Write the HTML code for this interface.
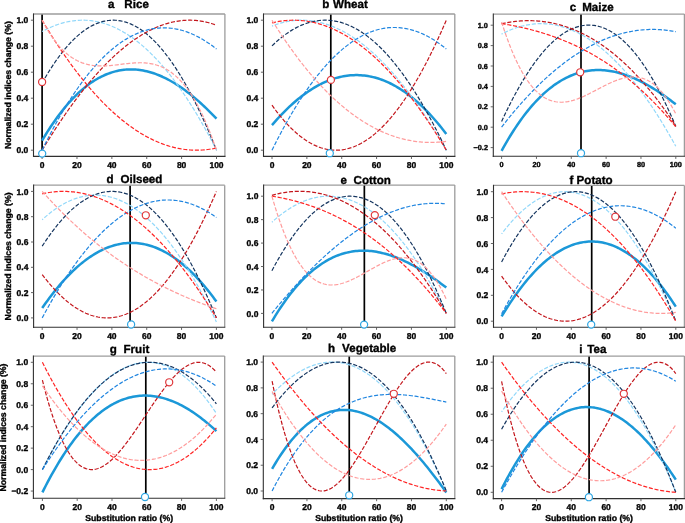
<!DOCTYPE html>
<html><head><meta charset="utf-8"><style>
html,body{margin:0;padding:0;background:#fff;}
body{width:685px;height:523px;position:relative;overflow:hidden;}
svg text{text-rendering:geometricPrecision;filter:grayscale(1);font-family:"Liberation Sans",sans-serif;font-weight:bold;fill:#000;stroke:#000;stroke-width:0.35px;}
</style></head><body>
<svg width="685" height="523" viewBox="0 0 685 523" style="position:absolute;left:0;top:0">
<clipPath id="clipa"><rect x="33.5" y="14.0" width="191.40" height="142.40"/></clipPath>
<g clip-path="url(#clipa)">
<line x1="42.10" y1="14.0" x2="42.10" y2="156.4" stroke="#000" stroke-width="1.7"/>
<polyline points="42.10,140.55 43.84,137.61 45.59,134.74 47.33,131.94 49.08,129.21 50.82,126.55 52.56,123.95 54.31,121.42 56.05,118.95 57.80,116.55 59.54,114.22 61.28,111.95 63.03,109.74 64.77,107.60 66.52,105.52 68.26,103.50 70.00,101.55 71.75,99.66 73.49,97.83 75.24,96.06 76.98,94.35 78.72,92.71 80.47,91.12 82.21,89.59 83.96,88.13 85.70,86.72 87.44,85.37 89.19,84.07 90.93,82.84 92.68,81.66 94.42,80.54 96.16,79.48 97.91,78.47 99.65,77.52 101.40,76.62 103.14,75.78 104.88,74.99 106.63,74.25 108.37,73.57 110.12,72.95 111.86,72.37 113.60,71.85 115.35,71.38 117.09,70.96 118.84,70.59 120.58,70.27 122.32,70.00 124.07,69.79 125.81,69.62 127.56,69.50 129.30,69.43 131.04,69.41 132.79,69.43 134.53,69.50 136.28,69.62 138.02,69.79 139.76,70.00 141.51,70.26 143.25,70.56 145.00,70.91 146.74,71.30 148.48,71.74 150.23,72.22 151.97,72.74 153.72,73.31 155.46,73.91 157.20,74.56 158.95,75.26 160.69,75.99 162.44,76.76 164.18,77.58 165.92,78.43 167.67,79.32 169.41,80.25 171.16,81.23 172.90,82.23 174.64,83.28 176.39,84.37 178.13,85.49 179.88,86.65 181.62,87.84 183.36,89.07 185.11,90.34 186.85,91.64 188.60,92.97 190.34,94.34 192.08,95.74 193.83,97.18 195.57,98.65 197.32,100.15 199.06,101.68 200.80,103.25 202.55,104.85 204.29,106.47 206.04,108.13 207.78,109.82 209.52,111.53 211.27,113.28 213.01,115.06 214.76,116.86 216.50,118.69" fill="none" stroke="#1b98d8" stroke-width="2.5" stroke-linecap="butt" stroke-linejoin="round"/>
<polyline points="42.10,31.57 43.84,30.61 45.59,29.70 47.33,28.83 49.08,28.00 50.82,27.21 52.56,26.47 54.31,25.76 56.05,25.10 57.80,24.48 59.54,23.90 61.28,23.36 63.03,22.86 64.77,22.41 66.52,22.00 68.26,21.63 70.00,21.30 71.75,21.02 73.49,20.78 75.24,20.58 76.98,20.42 78.72,20.30 80.47,20.23 82.21,20.20 83.96,20.21 85.70,20.27 87.44,20.37 89.19,20.51 90.93,20.69 92.68,20.92 94.42,21.19 96.16,21.50 97.91,21.85 99.65,22.25 101.40,22.69 103.14,23.18 104.88,23.71 106.63,24.28 108.37,24.90 110.12,25.55 111.86,26.26 113.60,27.00 115.35,27.79 117.09,28.62 118.84,29.50 120.58,30.42 122.32,31.39 124.07,32.40 125.81,33.45 127.56,34.55 129.30,35.69 131.04,36.87 132.79,38.10 134.53,39.37 136.28,40.69 138.02,42.05 139.76,43.46 141.51,44.91 143.25,46.41 145.00,47.95 146.74,49.53 148.48,51.16 150.23,52.84 151.97,54.56 153.72,56.32 155.46,58.13 157.20,59.98 158.95,61.88 160.69,63.83 162.44,65.82 164.18,67.85 165.92,69.93 167.67,72.06 169.41,74.23 171.16,76.44 172.90,78.70 174.64,81.01 176.39,83.36 178.13,85.76 179.88,88.21 181.62,90.70 183.36,93.23 185.11,95.81 186.85,98.44 188.60,101.12 190.34,103.84 192.08,106.60 193.83,109.41 195.57,112.27 197.32,115.18 199.06,118.13 200.80,121.13 202.55,124.17 204.29,127.26 206.04,130.40 207.78,133.58 209.52,136.81 211.27,140.09 213.01,143.41 214.76,146.78 216.50,150.20" fill="none" stroke="#92d8fa" stroke-width="1.2" stroke-dasharray="4.1 1.7" stroke-dashoffset="2.9" stroke-linejoin="round"/>
<polyline points="42.10,83.04 43.84,79.98 45.59,76.99 47.33,74.08 49.08,71.26 50.82,68.50 52.56,65.83 54.31,63.23 56.05,60.71 57.80,58.26 59.54,55.89 61.28,53.60 63.03,51.38 64.77,49.24 66.52,47.18 68.26,45.19 70.00,43.28 71.75,41.45 73.49,39.69 75.24,38.01 76.98,36.41 78.72,34.88 80.47,33.42 82.21,32.05 83.96,30.75 85.70,29.52 87.44,28.37 89.19,27.30 90.93,26.30 92.68,25.38 94.42,24.53 96.16,23.76 97.91,23.07 99.65,22.45 101.40,21.90 103.14,21.43 104.88,21.04 106.63,20.72 108.37,20.48 110.12,20.31 111.86,20.22 113.60,20.20 115.35,20.26 117.09,20.39 118.84,20.60 120.58,20.88 122.32,21.24 124.07,21.67 125.81,22.17 127.56,22.75 129.30,23.41 131.04,24.14 132.79,24.95 134.53,25.82 136.28,26.78 138.02,27.81 139.76,28.91 141.51,30.09 143.25,31.34 145.00,32.66 146.74,34.06 148.48,35.53 150.23,37.08 151.97,38.70 153.72,40.40 155.46,42.17 157.20,44.01 158.95,45.92 160.69,47.91 162.44,49.98 164.18,52.12 165.92,54.33 167.67,56.61 169.41,58.97 171.16,61.40 172.90,63.90 174.64,66.48 176.39,69.13 178.13,71.86 179.88,74.65 181.62,77.52 183.36,80.47 185.11,83.48 186.85,86.57 188.60,89.74 190.34,92.97 192.08,96.28 193.83,99.66 195.57,103.11 197.32,106.64 199.06,110.24 200.80,113.91 202.55,117.65 204.29,121.47 206.04,125.35 207.78,129.31 209.52,133.35 211.27,137.45 213.01,141.63 214.76,145.88 216.50,150.20" fill="none" stroke="#15355f" stroke-width="1.2" stroke-dasharray="4.1 1.7" stroke-linejoin="round"/>
<polyline points="42.10,150.20 43.84,147.32 45.59,144.47 47.33,141.65 49.08,138.85 50.82,136.08 52.56,133.34 54.31,130.63 56.05,127.95 57.80,125.30 59.54,122.68 61.28,120.08 63.03,117.52 64.77,114.98 66.52,112.48 68.26,110.00 70.00,107.56 71.75,105.14 73.49,102.76 75.24,100.40 76.98,98.08 78.72,95.79 80.47,93.52 82.21,91.29 83.96,89.09 85.70,86.92 87.44,84.79 89.19,82.68 90.93,80.61 92.68,78.57 94.42,76.56 96.16,74.58 97.91,72.64 99.65,70.73 101.40,68.85 103.14,67.00 104.88,65.19 106.63,63.41 108.37,61.66 110.12,59.95 111.86,58.27 113.60,56.63 115.35,55.02 117.09,53.44 118.84,51.90 120.58,50.39 122.32,48.92 124.07,47.48 125.81,46.08 127.56,44.71 129.30,43.38 131.04,42.08 132.79,40.82 134.53,39.59 136.28,38.41 138.02,37.25 139.76,36.13 141.51,35.05 143.25,34.01 145.00,33.00 146.74,32.03 148.48,31.10 150.23,30.20 151.97,29.34 153.72,28.52 155.46,27.74 157.20,26.99 158.95,26.28 160.69,25.61 162.44,24.98 164.18,24.39 165.92,23.83 167.67,23.31 169.41,22.84 171.16,22.40 172.90,22.00 174.64,21.64 176.39,21.32 178.13,21.04 179.88,20.80 181.62,20.60 183.36,20.44 185.11,20.32 186.85,20.24 188.60,20.20 190.34,20.20 192.08,20.24 193.83,20.33 195.57,20.45 197.32,20.62 199.06,20.83 200.80,21.08 202.55,21.37 204.29,21.70 206.04,22.08 207.78,22.50 209.52,22.96 211.27,23.46 213.01,24.01 214.76,24.59 216.50,25.23" fill="none" stroke="#c3161c" stroke-width="1.2" stroke-dasharray="4.1 1.7" stroke-linejoin="round"/>
<polyline points="42.10,150.20 43.84,146.63 45.59,143.12 47.33,139.66 49.08,136.26 50.82,132.91 52.56,129.62 54.31,126.38 56.05,123.20 57.80,120.07 59.54,117.00 61.28,113.98 63.03,111.01 64.77,108.10 66.52,105.24 68.26,102.44 70.00,99.68 71.75,96.99 73.49,94.34 75.24,91.75 76.98,89.22 78.72,86.73 80.47,84.30 82.21,81.93 83.96,79.60 85.70,77.33 87.44,75.11 89.19,72.94 90.93,70.83 92.68,68.77 94.42,66.76 96.16,64.80 97.91,62.89 99.65,61.04 101.40,59.23 103.14,57.48 104.88,55.78 106.63,54.14 108.37,52.54 110.12,50.99 111.86,49.50 113.60,48.05 115.35,46.66 117.09,45.32 118.84,44.03 120.58,42.79 122.32,41.60 124.07,40.45 125.81,39.36 127.56,38.32 129.30,37.33 131.04,36.39 132.79,35.50 134.53,34.66 136.28,33.87 138.02,33.13 139.76,32.43 141.51,31.79 143.25,31.19 145.00,30.65 146.74,30.15 148.48,29.70 150.23,29.30 151.97,28.95 153.72,28.65 155.46,28.39 157.20,28.19 158.95,28.03 160.69,27.92 162.44,27.85 164.18,27.84 165.92,27.87 167.67,27.95 169.41,28.08 171.16,28.25 172.90,28.47 174.64,28.74 176.39,29.06 178.13,29.42 179.88,29.83 181.62,30.28 183.36,30.79 185.11,31.34 186.85,31.93 188.60,32.57 190.34,33.26 192.08,33.99 193.83,34.77 195.57,35.59 197.32,36.46 199.06,37.38 200.80,38.34 202.55,39.35 204.29,40.40 206.04,41.49 207.78,42.63 209.52,43.82 211.27,45.05 213.01,46.33 214.76,47.65 216.50,49.01" fill="none" stroke="#2186e0" stroke-width="1.2" stroke-dasharray="4.1 1.7" stroke-linejoin="round"/>
<polyline points="42.10,20.20 43.84,23.12 45.59,26.01 47.33,28.86 49.08,31.68 50.82,34.47 52.56,37.22 54.31,39.95 56.05,42.63 57.80,45.29 59.54,47.91 61.28,50.50 63.03,53.05 64.77,55.58 66.52,58.06 68.26,60.52 70.00,62.94 71.75,65.33 73.49,67.69 75.24,70.01 76.98,72.30 78.72,74.56 80.47,76.78 82.21,78.97 83.96,81.13 85.70,83.25 87.44,85.35 89.19,87.40 90.93,89.43 92.68,91.42 94.42,93.38 96.16,95.30 97.91,97.19 99.65,99.05 101.40,100.88 103.14,102.67 104.88,104.43 106.63,106.16 108.37,107.85 110.12,109.51 111.86,111.14 113.60,112.73 115.35,114.29 117.09,115.82 118.84,117.31 120.58,118.77 122.32,120.20 124.07,121.59 125.81,122.95 127.56,124.28 129.30,125.58 131.04,126.84 132.79,128.07 134.53,129.26 136.28,130.42 138.02,131.55 139.76,132.65 141.51,133.71 143.25,134.74 145.00,135.74 146.74,136.70 148.48,137.63 150.23,138.53 151.97,139.39 153.72,140.22 155.46,141.02 157.20,141.78 158.95,142.51 160.69,143.21 162.44,143.88 164.18,144.51 165.92,145.10 167.67,145.67 169.41,146.20 171.16,146.70 172.90,147.17 174.64,147.60 176.39,148.00 178.13,148.36 179.88,148.70 181.62,149.00 183.36,149.26 185.11,149.50 186.85,149.70 188.60,149.86 190.34,150.00 192.08,150.10 193.83,150.16 195.57,150.20 197.32,150.20 199.06,150.17 200.80,150.10 202.55,150.00 204.29,149.87 206.04,149.71 207.78,149.51 209.52,149.28 211.27,149.01 213.01,148.72 214.76,148.39 216.50,148.02" fill="none" stroke="#ff2424" stroke-width="1.2" stroke-dasharray="4.1 1.7" stroke-linejoin="round"/>
<polyline points="42.10,20.20 43.84,23.50 45.59,26.64 47.33,29.62 49.08,32.46 50.82,35.16 52.56,37.71 54.31,40.12 56.05,42.40 57.80,44.55 59.54,46.57 61.28,48.47 63.03,50.24 64.77,51.90 66.52,53.44 68.26,54.88 70.00,56.21 71.75,57.43 73.49,58.56 75.24,59.59 76.98,60.53 78.72,61.38 80.47,62.15 82.21,62.83 83.96,63.43 85.70,63.96 87.44,64.42 89.19,64.82 90.93,65.14 92.68,65.41 94.42,65.62 96.16,65.78 97.91,65.89 99.65,65.95 101.40,65.97 103.14,65.95 104.88,65.89 106.63,65.81 108.37,65.69 110.12,65.55 111.86,65.39 113.60,65.21 115.35,65.01 117.09,64.80 118.84,64.59 120.58,64.37 122.32,64.16 124.07,63.94 125.81,63.74 127.56,63.54 129.30,63.36 131.04,63.19 132.79,63.05 134.53,62.93 136.28,62.84 138.02,62.78 139.76,62.75 141.51,62.77 143.25,62.82 145.00,62.92 146.74,63.08 148.48,63.28 150.23,63.54 151.97,63.86 153.72,64.24 155.46,64.70 157.20,65.22 158.95,65.81 160.69,66.49 162.44,67.24 164.18,68.08 165.92,69.01 167.67,70.03 169.41,71.14 171.16,72.35 172.90,73.67 174.64,75.09 176.39,76.62 178.13,78.27 179.88,80.03 181.62,81.91 183.36,83.91 185.11,86.05 186.85,88.31 188.60,90.71 190.34,93.24 192.08,95.92 193.83,98.74 195.57,101.71 197.32,104.83 199.06,108.10 200.80,111.54 202.55,115.14 204.29,118.90 206.04,122.84 207.78,126.94 209.52,131.23 211.27,135.69 213.01,140.34 214.76,145.17 216.50,150.20" fill="none" stroke="#ff9c9c" stroke-width="1.2" stroke-dasharray="4.1 1.7" stroke-linejoin="round"/>
</g>
<line x1="33.5" y1="14.0" x2="224.9" y2="14.0" stroke="#9c9c9c" stroke-width="1.3"/>
<line x1="224.9" y1="14.0" x2="224.9" y2="156.4" stroke="#9c9c9c" stroke-width="1.3"/>
<line x1="33.5" y1="13.4" x2="33.5" y2="157.0" stroke="#303030" stroke-width="1.1"/>
<line x1="33.0" y1="156.4" x2="225.5" y2="156.4" stroke="#303030" stroke-width="1.1"/>
<line x1="30.90" y1="150.20" x2="33.50" y2="150.20" stroke="#555" stroke-width="0.9"/>
<text x="28.30" y="153.33" font-size="8.5" text-anchor="end">0.0</text>
<line x1="30.90" y1="124.20" x2="33.50" y2="124.20" stroke="#555" stroke-width="0.9"/>
<text x="28.30" y="127.33" font-size="8.5" text-anchor="end">0.2</text>
<line x1="30.90" y1="98.20" x2="33.50" y2="98.20" stroke="#555" stroke-width="0.9"/>
<text x="28.30" y="101.33" font-size="8.5" text-anchor="end">0.4</text>
<line x1="30.90" y1="72.20" x2="33.50" y2="72.20" stroke="#555" stroke-width="0.9"/>
<text x="28.30" y="75.33" font-size="8.5" text-anchor="end">0.6</text>
<line x1="30.90" y1="46.20" x2="33.50" y2="46.20" stroke="#555" stroke-width="0.9"/>
<text x="28.30" y="49.33" font-size="8.5" text-anchor="end">0.8</text>
<line x1="30.90" y1="20.20" x2="33.50" y2="20.20" stroke="#555" stroke-width="0.9"/>
<text x="28.30" y="23.33" font-size="8.5" text-anchor="end">1.0</text>
<line x1="42.10" y1="156.40" x2="42.10" y2="159.00" stroke="#555" stroke-width="0.9"/>
<text x="42.10" y="167.70" font-size="8.5" text-anchor="middle">0</text>
<line x1="76.98" y1="156.40" x2="76.98" y2="159.00" stroke="#555" stroke-width="0.9"/>
<text x="76.98" y="167.70" font-size="8.5" text-anchor="middle">20</text>
<line x1="111.86" y1="156.40" x2="111.86" y2="159.00" stroke="#555" stroke-width="0.9"/>
<text x="111.86" y="167.70" font-size="8.5" text-anchor="middle">40</text>
<line x1="146.74" y1="156.40" x2="146.74" y2="159.00" stroke="#555" stroke-width="0.9"/>
<text x="146.74" y="167.70" font-size="8.5" text-anchor="middle">60</text>
<line x1="181.62" y1="156.40" x2="181.62" y2="159.00" stroke="#555" stroke-width="0.9"/>
<text x="181.62" y="167.70" font-size="8.5" text-anchor="middle">80</text>
<line x1="216.50" y1="156.40" x2="216.50" y2="159.00" stroke="#555" stroke-width="0.9"/>
<text x="216.50" y="167.70" font-size="8.5" text-anchor="middle">100</text>
<circle cx="42.10" cy="81.95" r="3.55" fill="#fff" stroke="#e0383c" stroke-width="1.2"/>
<circle cx="42.20" cy="153.60" r="3.55" fill="#fff" stroke="#2ea6e3" stroke-width="1.2"/>
<text x="107.96" y="8.4" font-size="11.6">a</text>
<text x="124.37" y="8.4" font-size="11.6">Rice</text>
<clipPath id="clipb"><rect x="263.5" y="14.0" width="191.30" height="142.40"/></clipPath>
<g clip-path="url(#clipb)">
<line x1="330.80" y1="14.0" x2="330.80" y2="156.4" stroke="#000" stroke-width="1.7"/>
<polyline points="272.00,125.11 273.74,123.09 275.49,121.10 277.23,119.15 278.97,117.25 280.71,115.38 282.46,113.56 284.20,111.78 285.94,110.04 287.69,108.34 289.43,106.69 291.17,105.07 292.92,103.50 294.66,101.97 296.40,100.48 298.14,99.04 299.89,97.63 301.63,96.27 303.37,94.95 305.12,93.67 306.86,92.43 308.60,91.24 310.35,90.09 312.09,88.98 313.83,87.91 315.57,86.89 317.32,85.90 319.06,84.96 320.80,84.06 322.55,83.21 324.29,82.40 326.03,81.63 327.78,80.90 329.52,80.22 331.26,79.57 333.00,78.97 334.75,78.42 336.49,77.90 338.23,77.43 339.98,77.01 341.72,76.62 343.46,76.28 345.21,75.98 346.95,75.73 348.69,75.52 350.44,75.35 352.18,75.22 353.92,75.14 355.66,75.10 357.41,75.11 359.15,75.15 360.89,75.24 362.64,75.38 364.38,75.56 366.12,75.78 367.87,76.05 369.61,76.36 371.35,76.71 373.09,77.11 374.84,77.55 376.58,78.03 378.32,78.56 380.07,79.14 381.81,79.75 383.55,80.42 385.30,81.12 387.04,81.87 388.78,82.66 390.52,83.50 392.27,84.38 394.01,85.31 395.75,86.28 397.50,87.30 399.24,88.36 400.98,89.46 402.73,90.61 404.47,91.81 406.21,93.04 407.95,94.33 409.70,95.65 411.44,97.03 413.18,98.44 414.93,99.91 416.67,101.41 418.41,102.97 420.16,104.56 421.90,106.21 423.64,107.89 425.38,109.63 427.13,111.40 428.87,113.23 430.61,115.09 432.36,117.01 434.10,118.97 435.84,120.97 437.59,123.02 439.33,125.12 441.07,127.26 442.81,129.44 444.56,131.68 446.30,133.95" fill="none" stroke="#1b98d8" stroke-width="2.5" stroke-linecap="butt" stroke-linejoin="round"/>
<polyline points="272.00,26.08 273.74,25.40 275.49,24.77 277.23,24.18 278.97,23.63 280.71,23.12 282.46,22.65 284.20,22.22 285.94,21.84 287.69,21.49 289.43,21.19 291.17,20.93 292.92,20.70 294.66,20.52 296.40,20.38 298.14,20.28 299.89,20.22 301.63,20.20 303.37,20.22 305.12,20.28 306.86,20.38 308.60,20.52 310.35,20.70 312.09,20.92 313.83,21.18 315.57,21.48 317.32,21.82 319.06,22.20 320.80,22.61 322.55,23.07 324.29,23.57 326.03,24.10 327.78,24.67 329.52,25.29 331.26,25.94 333.00,26.63 334.75,27.36 336.49,28.12 338.23,28.93 339.98,29.77 341.72,30.66 343.46,31.58 345.21,32.53 346.95,33.53 348.69,34.56 350.44,35.64 352.18,36.75 353.92,37.89 355.66,39.08 357.41,40.30 359.15,41.56 360.89,42.86 362.64,44.19 364.38,45.56 366.12,46.97 367.87,48.42 369.61,49.90 371.35,51.42 373.09,52.97 374.84,54.56 376.58,56.19 378.32,57.86 380.07,59.56 381.81,61.29 383.55,63.07 385.30,64.88 387.04,66.72 388.78,68.60 390.52,70.52 392.27,72.47 394.01,74.46 395.75,76.48 397.50,78.54 399.24,80.64 400.98,82.77 402.73,84.93 404.47,87.13 406.21,89.36 407.95,91.63 409.70,93.94 411.44,96.28 413.18,98.65 414.93,101.06 416.67,103.50 418.41,105.98 420.16,108.49 421.90,111.03 423.64,113.61 425.38,116.23 427.13,118.87 428.87,121.55 430.61,124.27 432.36,127.02 434.10,129.80 435.84,132.61 437.59,135.46 439.33,138.34 441.07,141.26 442.81,144.21 444.56,147.19 446.30,150.20" fill="none" stroke="#92d8fa" stroke-width="1.2" stroke-dasharray="4.1 1.7" stroke-dashoffset="2.9" stroke-linejoin="round"/>
<polyline points="272.00,45.86 273.74,44.20 275.49,42.59 277.23,41.03 278.97,39.54 280.71,38.10 282.46,36.71 284.20,35.38 285.94,34.11 287.69,32.89 289.43,31.73 291.17,30.63 292.92,29.58 294.66,28.59 296.40,27.65 298.14,26.77 299.89,25.94 301.63,25.17 303.37,24.46 305.12,23.80 306.86,23.20 308.60,22.65 310.35,22.16 312.09,21.72 313.83,21.34 315.57,21.01 317.32,20.74 319.06,20.52 320.80,20.36 322.55,20.25 324.29,20.20 326.03,20.20 327.78,20.26 329.52,20.37 331.26,20.54 333.00,20.76 334.75,21.04 336.49,21.37 338.23,21.76 339.98,22.20 341.72,22.69 343.46,23.24 345.21,23.85 346.95,24.51 348.69,25.22 350.44,25.99 352.18,26.81 353.92,27.68 355.66,28.61 357.41,29.59 359.15,30.63 360.89,31.72 362.64,32.87 364.38,34.07 366.12,35.32 367.87,36.62 369.61,37.98 371.35,39.40 373.09,40.87 374.84,42.39 376.58,43.96 378.32,45.59 380.07,47.27 381.81,49.00 383.55,50.79 385.30,52.63 387.04,54.52 388.78,56.47 390.52,58.47 392.27,60.52 394.01,62.63 395.75,64.79 397.50,67.00 399.24,69.27 400.98,71.58 402.73,73.95 404.47,76.38 406.21,78.85 407.95,81.38 409.70,83.96 411.44,86.59 413.18,89.28 414.93,92.02 416.67,94.81 418.41,97.65 420.16,100.55 421.90,103.49 423.64,106.49 425.38,109.54 427.13,112.65 428.87,115.80 430.61,119.01 432.36,122.27 434.10,125.58 435.84,128.94 437.59,132.35 439.33,135.82 441.07,139.34 442.81,142.91 444.56,146.53 446.30,150.20" fill="none" stroke="#15355f" stroke-width="1.2" stroke-dasharray="4.1 1.7" stroke-linejoin="round"/>
<polyline points="272.00,105.21 273.74,107.64 275.49,110.00 277.23,112.30 278.97,114.52 280.71,116.68 282.46,118.77 284.20,120.80 285.94,122.75 287.69,124.64 289.43,126.46 291.17,128.21 292.92,129.89 294.66,131.51 296.40,133.06 298.14,134.54 299.89,135.96 301.63,137.30 303.37,138.58 305.12,139.80 306.86,140.94 308.60,142.02 310.35,143.03 312.09,143.98 313.83,144.85 315.57,145.66 317.32,146.41 319.06,147.08 320.80,147.70 322.55,148.24 324.29,148.72 326.03,149.13 327.78,149.47 329.52,149.75 331.26,149.96 333.00,150.11 334.75,150.19 336.49,150.20 338.23,150.15 339.98,150.03 341.72,149.84 343.46,149.59 345.21,149.28 346.95,148.89 348.69,148.44 350.44,147.93 352.18,147.35 353.92,146.71 355.66,146.00 357.41,145.22 359.15,144.38 360.89,143.47 362.64,142.50 364.38,141.46 366.12,140.36 367.87,139.19 369.61,137.96 371.35,136.66 373.09,135.30 374.84,133.87 376.58,132.38 378.32,130.82 380.07,129.20 381.81,127.51 383.55,125.76 385.30,123.95 387.04,122.07 388.78,120.12 390.52,118.11 392.27,116.04 394.01,113.90 395.75,111.70 397.50,109.44 399.24,107.11 400.98,104.71 402.73,102.26 404.47,99.73 406.21,97.15 407.95,94.50 409.70,91.79 411.44,89.01 413.18,86.17 414.93,83.27 416.67,80.30 418.41,77.27 420.16,74.17 421.90,71.02 423.64,67.80 425.38,64.51 427.13,61.17 428.87,57.76 430.61,54.28 432.36,50.75 434.10,47.15 435.84,43.49 437.59,39.76 439.33,35.98 441.07,32.13 442.81,28.21 444.56,24.24 446.30,20.20" fill="none" stroke="#c3161c" stroke-width="1.2" stroke-dasharray="4.1 1.7" stroke-linejoin="round"/>
<polyline points="272.00,150.20 273.74,146.69 275.49,143.23 277.23,139.82 278.97,136.47 280.71,133.17 282.46,129.92 284.20,126.72 285.94,123.57 287.69,120.47 289.43,117.43 291.17,114.44 292.92,111.50 294.66,108.61 296.40,105.77 298.14,102.98 299.89,100.25 301.63,97.56 303.37,94.93 305.12,92.35 306.86,89.82 308.60,87.34 310.35,84.91 312.09,82.53 313.83,80.20 315.57,77.93 317.32,75.70 319.06,73.53 320.80,71.41 322.55,69.33 324.29,67.31 326.03,65.34 327.78,63.42 329.52,61.55 331.26,59.73 333.00,57.96 334.75,56.25 336.49,54.58 338.23,52.96 339.98,51.39 341.72,49.88 343.46,48.41 345.21,46.99 346.95,45.62 348.69,44.31 350.44,43.04 352.18,41.82 353.92,40.66 355.66,39.54 357.41,38.47 359.15,37.46 360.89,36.49 362.64,35.57 364.38,34.70 366.12,33.88 367.87,33.11 369.61,32.39 371.35,31.72 373.09,31.10 374.84,30.53 376.58,30.01 378.32,29.53 380.07,29.11 381.81,28.73 383.55,28.41 385.30,28.13 387.04,27.90 388.78,27.72 390.52,27.59 392.27,27.51 394.01,27.48 395.75,27.50 397.50,27.56 399.24,27.68 400.98,27.84 402.73,28.05 404.47,28.31 406.21,28.62 407.95,28.98 409.70,29.38 411.44,29.84 413.18,30.34 414.93,30.89 416.67,31.49 418.41,32.13 420.16,32.83 421.90,33.57 423.64,34.36 425.38,35.20 427.13,36.09 428.87,37.02 430.61,38.00 432.36,39.03 434.10,40.11 435.84,41.24 437.59,42.41 439.33,43.63 441.07,44.90 442.81,46.22 444.56,47.58 446.30,48.99" fill="none" stroke="#2186e0" stroke-width="1.2" stroke-dasharray="4.1 1.7" stroke-linejoin="round"/>
<polyline points="272.00,22.87 273.74,22.46 275.49,22.08 277.23,21.74 278.97,21.43 280.71,21.15 282.46,20.91 284.20,20.70 285.94,20.53 287.69,20.40 289.43,20.30 291.17,20.23 292.92,20.20 294.66,20.20 296.40,20.24 298.14,20.31 299.89,20.42 301.63,20.56 303.37,20.74 305.12,20.95 306.86,21.19 308.60,21.47 310.35,21.79 312.09,22.14 313.83,22.52 315.57,22.94 317.32,23.39 319.06,23.87 320.80,24.39 322.55,24.95 324.29,25.54 326.03,26.16 327.78,26.82 329.52,27.51 331.26,28.23 333.00,28.99 334.75,29.78 336.49,30.61 338.23,31.47 339.98,32.37 341.72,33.30 343.46,34.26 345.21,35.26 346.95,36.29 348.69,37.35 350.44,38.45 352.18,39.59 353.92,40.75 355.66,41.95 357.41,43.19 359.15,44.45 360.89,45.75 362.64,47.09 364.38,48.46 366.12,49.86 367.87,51.29 369.61,52.76 371.35,54.27 373.09,55.80 374.84,57.37 376.58,58.97 378.32,60.61 380.07,62.28 381.81,63.98 383.55,65.72 385.30,67.49 387.04,69.29 388.78,71.13 390.52,73.00 392.27,74.90 394.01,76.84 395.75,78.81 397.50,80.81 399.24,82.84 400.98,84.91 402.73,87.01 404.47,89.15 406.21,91.31 407.95,93.51 409.70,95.75 411.44,98.01 413.18,100.31 414.93,102.64 416.67,105.01 418.41,107.40 420.16,109.83 421.90,112.30 423.64,114.79 425.38,117.32 427.13,119.88 428.87,122.48 430.61,125.10 432.36,127.76 434.10,130.45 435.84,133.18 437.59,135.93 439.33,138.72 441.07,141.54 442.81,144.40 444.56,147.28 446.30,150.20" fill="none" stroke="#ff2424" stroke-width="1.2" stroke-dasharray="4.1 1.7" stroke-linejoin="round"/>
<polyline points="272.00,20.20 273.74,23.00 275.49,25.76 277.23,28.49 278.97,31.18 280.71,33.84 282.46,36.46 284.20,39.05 285.94,41.60 287.69,44.12 289.43,46.60 291.17,49.05 292.92,51.47 294.66,53.85 296.40,56.20 298.14,58.51 299.89,60.79 301.63,63.04 303.37,65.25 305.12,67.43 306.86,69.57 308.60,71.69 310.35,73.77 312.09,75.81 313.83,77.83 315.57,79.81 317.32,81.75 319.06,83.67 320.80,85.55 322.55,87.40 324.29,89.22 326.03,91.00 327.78,92.75 329.52,94.47 331.26,96.16 333.00,97.82 334.75,99.44 336.49,101.03 338.23,102.59 339.98,104.12 341.72,105.62 343.46,107.08 345.21,108.52 346.95,109.92 348.69,111.29 350.44,112.64 352.18,113.95 353.92,115.23 355.66,116.47 357.41,117.69 359.15,118.88 360.89,120.04 362.64,121.16 364.38,122.26 366.12,123.33 367.87,124.36 369.61,125.37 371.35,126.34 373.09,127.29 374.84,128.21 376.58,129.09 378.32,129.95 380.07,130.78 381.81,131.58 383.55,132.35 385.30,133.09 387.04,133.80 388.78,134.48 390.52,135.13 392.27,135.76 394.01,136.35 395.75,136.92 397.50,137.46 399.24,137.97 400.98,138.45 402.73,138.91 404.47,139.33 406.21,139.73 407.95,140.10 409.70,140.44 411.44,140.76 413.18,141.05 414.93,141.31 416.67,141.54 418.41,141.74 420.16,141.92 421.90,142.07 423.64,142.19 425.38,142.29 427.13,142.36 428.87,142.40 430.61,142.42 432.36,142.41 434.10,142.37 435.84,142.31 437.59,142.22 439.33,142.10 441.07,141.96 442.81,141.79 444.56,141.60 446.30,141.38" fill="none" stroke="#ff9c9c" stroke-width="1.2" stroke-dasharray="4.1 1.7" stroke-linejoin="round"/>
</g>
<line x1="263.5" y1="14.0" x2="454.8" y2="14.0" stroke="#9c9c9c" stroke-width="1.3"/>
<line x1="454.8" y1="14.0" x2="454.8" y2="156.4" stroke="#9c9c9c" stroke-width="1.3"/>
<line x1="263.5" y1="13.4" x2="263.5" y2="157.0" stroke="#303030" stroke-width="1.1"/>
<line x1="263.0" y1="156.4" x2="455.40000000000003" y2="156.4" stroke="#303030" stroke-width="1.1"/>
<line x1="260.90" y1="150.20" x2="263.50" y2="150.20" stroke="#555" stroke-width="0.9"/>
<text x="258.30" y="153.33" font-size="8.5" text-anchor="end">0.0</text>
<line x1="260.90" y1="124.20" x2="263.50" y2="124.20" stroke="#555" stroke-width="0.9"/>
<text x="258.30" y="127.33" font-size="8.5" text-anchor="end">0.2</text>
<line x1="260.90" y1="98.20" x2="263.50" y2="98.20" stroke="#555" stroke-width="0.9"/>
<text x="258.30" y="101.33" font-size="8.5" text-anchor="end">0.4</text>
<line x1="260.90" y1="72.20" x2="263.50" y2="72.20" stroke="#555" stroke-width="0.9"/>
<text x="258.30" y="75.33" font-size="8.5" text-anchor="end">0.6</text>
<line x1="260.90" y1="46.20" x2="263.50" y2="46.20" stroke="#555" stroke-width="0.9"/>
<text x="258.30" y="49.33" font-size="8.5" text-anchor="end">0.8</text>
<line x1="260.90" y1="20.20" x2="263.50" y2="20.20" stroke="#555" stroke-width="0.9"/>
<text x="258.30" y="23.33" font-size="8.5" text-anchor="end">1.0</text>
<line x1="272.00" y1="156.40" x2="272.00" y2="159.00" stroke="#555" stroke-width="0.9"/>
<text x="272.00" y="167.70" font-size="8.5" text-anchor="middle">0</text>
<line x1="306.86" y1="156.40" x2="306.86" y2="159.00" stroke="#555" stroke-width="0.9"/>
<text x="306.86" y="167.70" font-size="8.5" text-anchor="middle">20</text>
<line x1="341.72" y1="156.40" x2="341.72" y2="159.00" stroke="#555" stroke-width="0.9"/>
<text x="341.72" y="167.70" font-size="8.5" text-anchor="middle">40</text>
<line x1="376.58" y1="156.40" x2="376.58" y2="159.00" stroke="#555" stroke-width="0.9"/>
<text x="376.58" y="167.70" font-size="8.5" text-anchor="middle">60</text>
<line x1="411.44" y1="156.40" x2="411.44" y2="159.00" stroke="#555" stroke-width="0.9"/>
<text x="411.44" y="167.70" font-size="8.5" text-anchor="middle">80</text>
<line x1="446.30" y1="156.40" x2="446.30" y2="159.00" stroke="#555" stroke-width="0.9"/>
<text x="446.30" y="167.70" font-size="8.5" text-anchor="middle">100</text>
<circle cx="330.90" cy="79.90" r="3.55" fill="#fff" stroke="#e0383c" stroke-width="1.2"/>
<circle cx="329.80" cy="153.20" r="3.55" fill="#fff" stroke="#2ea6e3" stroke-width="1.2"/>
<text x="322.33" y="8.4" font-size="11.6">b</text>
<text x="332.99" y="8.4" font-size="11.6">Wheat</text>
<clipPath id="clipc"><rect x="493.3" y="14.1" width="191.10" height="142.20"/></clipPath>
<g clip-path="url(#clipc)">
<line x1="581.00" y1="14.1" x2="581.00" y2="156.3" stroke="#000" stroke-width="1.7"/>
<polyline points="501.60,150.79 503.34,147.64 505.08,144.56 506.83,141.56 508.57,138.62 510.31,135.76 512.05,132.97 513.79,130.24 515.54,127.58 517.28,124.99 519.02,122.47 520.76,120.01 522.50,117.63 524.25,115.30 525.99,113.04 527.73,110.85 529.47,108.72 531.21,106.66 532.96,104.65 534.70,102.71 536.44,100.84 538.18,99.02 539.92,97.26 541.67,95.57 543.41,93.93 545.15,92.36 546.89,90.84 548.63,89.38 550.38,87.98 552.12,86.64 553.86,85.35 555.60,84.12 557.34,82.95 559.09,81.83 560.83,80.76 562.57,79.75 564.31,78.79 566.05,77.89 567.80,77.04 569.54,76.24 571.28,75.49 573.02,74.79 574.76,74.14 576.51,73.54 578.25,72.99 579.99,72.49 581.73,72.04 583.47,71.64 585.22,71.28 586.96,70.97 588.70,70.70 590.44,70.49 592.18,70.31 593.93,70.18 595.67,70.09 597.41,70.05 599.15,70.05 600.89,70.09 602.64,70.18 604.38,70.30 606.12,70.47 607.86,70.68 609.60,70.92 611.35,71.21 613.09,71.53 614.83,71.89 616.57,72.29 618.31,72.72 620.06,73.20 621.80,73.70 623.54,74.25 625.28,74.83 627.02,75.44 628.77,76.08 630.51,76.76 632.25,77.48 633.99,78.22 635.73,78.99 637.48,79.80 639.22,80.64 640.96,81.51 642.70,82.40 644.44,83.33 646.19,84.28 647.93,85.26 649.67,86.27 651.41,87.31 653.15,88.37 654.90,89.46 656.64,90.57 658.38,91.71 660.12,92.87 661.86,94.05 663.61,95.26 665.35,96.49 667.09,97.75 668.83,99.02 670.57,100.32 672.32,101.63 674.06,102.97 675.80,104.32" fill="none" stroke="#1b98d8" stroke-width="2.5" stroke-linecap="butt" stroke-linejoin="round"/>
<polyline points="501.60,34.12 503.34,33.22 505.08,32.35 506.83,31.53 508.57,30.75 510.31,30.01 512.05,29.31 513.79,28.65 515.54,28.03 517.28,27.45 519.02,26.92 520.76,26.42 522.50,25.97 524.25,25.55 525.99,25.18 527.73,24.85 529.47,24.56 531.21,24.31 532.96,24.10 534.70,23.93 536.44,23.80 538.18,23.72 539.92,23.67 541.67,23.67 543.41,23.71 545.15,23.78 546.89,23.90 548.63,24.06 550.38,24.26 552.12,24.50 553.86,24.79 555.60,25.11 557.34,25.47 559.09,25.88 560.83,26.33 562.57,26.81 564.31,27.34 566.05,27.91 567.80,28.52 569.54,29.17 571.28,29.86 573.02,30.60 574.76,31.37 576.51,32.18 578.25,33.04 579.99,33.94 581.73,34.87 583.47,35.85 585.22,36.87 586.96,37.93 588.70,39.03 590.44,40.17 592.18,41.36 593.93,42.58 595.67,43.85 597.41,45.15 599.15,46.50 600.89,47.89 602.64,49.31 604.38,50.78 606.12,52.29 607.86,53.85 609.60,55.44 611.35,57.07 613.09,58.75 614.83,60.46 616.57,62.22 618.31,64.01 620.06,65.85 621.80,67.73 623.54,69.65 625.28,71.61 627.02,73.61 628.77,75.66 630.51,77.74 632.25,79.86 633.99,82.03 635.73,84.23 637.48,86.48 639.22,88.77 640.96,91.10 642.70,93.47 644.44,95.88 646.19,98.33 647.93,100.83 649.67,103.36 651.41,105.93 653.15,108.55 654.90,111.21 656.64,113.90 658.38,116.64 660.12,119.42 661.86,122.24 663.61,125.10 665.35,128.01 667.09,130.95 668.83,133.93 670.57,136.96 672.32,140.02 674.06,143.13 675.80,146.28" fill="none" stroke="#92d8fa" stroke-width="1.2" stroke-dasharray="4.1 1.7" stroke-dashoffset="2.9" stroke-linejoin="round"/>
<polyline points="501.60,121.55 503.34,117.79 505.08,114.11 506.83,110.49 508.57,106.96 510.31,103.49 512.05,100.09 513.79,96.77 515.54,93.53 517.28,90.35 519.02,87.25 520.76,84.23 522.50,81.27 524.25,78.40 525.99,75.59 527.73,72.86 529.47,70.20 531.21,67.62 532.96,65.12 534.70,62.68 536.44,60.33 538.18,58.04 539.92,55.84 541.67,53.71 543.41,51.65 545.15,49.67 546.89,47.76 548.63,45.93 550.38,44.18 552.12,42.50 553.86,40.90 555.60,39.38 557.34,37.93 559.09,36.56 560.83,35.27 562.57,34.05 564.31,32.91 566.05,31.84 567.80,30.86 569.54,29.95 571.28,29.12 573.02,28.37 574.76,27.69 576.51,27.09 578.25,26.58 579.99,26.13 581.73,25.77 583.47,25.49 585.22,25.28 586.96,25.16 588.70,25.11 590.44,25.14 592.18,25.25 593.93,25.44 595.67,25.71 597.41,26.06 599.15,26.49 600.89,27.00 602.64,27.59 604.38,28.26 606.12,29.01 607.86,29.84 609.60,30.75 611.35,31.74 613.09,32.81 614.83,33.97 616.57,35.20 618.31,36.52 620.06,37.91 621.80,39.39 623.54,40.95 625.28,42.60 627.02,44.32 628.77,46.13 630.51,48.01 632.25,49.98 633.99,52.04 635.73,54.17 637.48,56.39 639.22,58.69 640.96,61.08 642.70,63.55 644.44,66.10 646.19,68.73 647.93,71.45 649.67,74.25 651.41,77.13 653.15,80.10 654.90,83.16 656.64,86.30 658.38,89.52 660.12,92.82 661.86,96.21 663.61,99.69 665.35,103.25 667.09,106.90 668.83,110.63 670.57,114.44 672.32,118.35 674.06,122.33 675.80,126.41" fill="none" stroke="#15355f" stroke-width="1.2" stroke-dasharray="4.1 1.7" stroke-linejoin="round"/>
<polyline points="501.60,23.73 503.34,23.36 505.08,23.01 506.83,22.68 508.57,22.38 510.31,22.10 512.05,21.85 513.79,21.62 515.54,21.42 517.28,21.23 519.02,21.08 520.76,20.95 522.50,20.84 524.25,20.76 525.99,20.71 527.73,20.68 529.47,20.68 531.21,20.70 532.96,20.75 534.70,20.82 536.44,20.92 538.18,21.05 539.92,21.20 541.67,21.38 543.41,21.58 545.15,21.82 546.89,22.08 548.63,22.37 550.38,22.68 552.12,23.02 553.86,23.39 555.60,23.79 557.34,24.21 559.09,24.67 560.83,25.15 562.57,25.66 564.31,26.20 566.05,26.76 567.80,27.36 569.54,27.98 571.28,28.63 573.02,29.32 574.76,30.03 576.51,30.77 578.25,31.54 579.99,32.34 581.73,33.17 583.47,34.03 585.22,34.91 586.96,35.83 588.70,36.78 590.44,37.76 592.18,38.77 593.93,39.82 595.67,40.89 597.41,41.99 599.15,43.13 600.89,44.29 602.64,45.49 604.38,46.72 606.12,47.98 607.86,49.27 609.60,50.59 611.35,51.95 613.09,53.34 614.83,54.76 616.57,56.21 618.31,57.70 620.06,59.22 621.80,60.77 623.54,62.35 625.28,63.97 627.02,65.62 628.77,67.31 630.51,69.03 632.25,70.78 633.99,72.56 635.73,74.38 637.48,76.24 639.22,78.13 640.96,80.05 642.70,82.01 644.44,84.00 646.19,86.03 647.93,88.09 649.67,90.19 651.41,92.32 653.15,94.49 654.90,96.69 656.64,98.93 658.38,101.20 660.12,103.51 661.86,105.86 663.61,108.24 665.35,110.66 667.09,113.12 668.83,115.61 670.57,118.14 672.32,120.70 674.06,123.31 675.80,125.95" fill="none" stroke="#c3161c" stroke-width="1.2" stroke-dasharray="4.1 1.7" stroke-linejoin="round"/>
<polyline points="501.60,127.07 503.34,124.84 505.08,122.62 506.83,120.44 508.57,118.28 510.31,116.14 512.05,114.03 513.79,111.95 515.54,109.90 517.28,107.87 519.02,105.86 520.76,103.88 522.50,101.93 524.25,100.00 525.99,98.10 527.73,96.23 529.47,94.38 531.21,92.56 532.96,90.76 534.70,88.99 536.44,87.24 538.18,85.52 539.92,83.83 541.67,82.16 543.41,80.52 545.15,78.91 546.89,77.32 548.63,75.75 550.38,74.22 552.12,72.70 553.86,71.22 555.60,69.76 557.34,68.32 559.09,66.92 560.83,65.54 562.57,64.18 564.31,62.85 566.05,61.55 567.80,60.27 569.54,59.02 571.28,57.79 573.02,56.59 574.76,55.42 576.51,54.27 578.25,53.14 579.99,52.05 581.73,50.98 583.47,49.93 585.22,48.91 586.96,47.92 588.70,46.96 590.44,46.02 592.18,45.10 593.93,44.21 595.67,43.35 597.41,42.51 599.15,41.70 600.89,40.92 602.64,40.16 604.38,39.42 606.12,38.72 607.86,38.04 609.60,37.38 611.35,36.75 613.09,36.15 614.83,35.57 616.57,35.02 618.31,34.49 620.06,33.99 621.80,33.52 623.54,33.07 625.28,32.65 627.02,32.26 628.77,31.89 630.51,31.54 632.25,31.22 633.99,30.93 635.73,30.67 637.48,30.43 639.22,30.21 640.96,30.02 642.70,29.86 644.44,29.73 646.19,29.62 647.93,29.53 649.67,29.47 651.41,29.44 653.15,29.43 654.90,29.45 656.64,29.50 658.38,29.57 660.12,29.67 661.86,29.79 663.61,29.94 665.35,30.11 667.09,30.32 668.83,30.54 670.57,30.80 672.32,31.07 674.06,31.38 675.80,31.71" fill="none" stroke="#2186e0" stroke-width="1.2" stroke-dasharray="4.1 1.7" stroke-linejoin="round"/>
<polyline points="501.60,23.57 503.34,23.85 505.08,24.15 506.83,24.45 508.57,24.77 510.31,25.09 512.05,25.42 513.79,25.77 515.54,26.12 517.28,26.48 519.02,26.85 520.76,27.23 522.50,27.62 524.25,28.03 525.99,28.44 527.73,28.87 529.47,29.30 531.21,29.75 532.96,30.21 534.70,30.68 536.44,31.16 538.18,31.66 539.92,32.17 541.67,32.69 543.41,33.22 545.15,33.77 546.89,34.33 548.63,34.90 550.38,35.49 552.12,36.09 553.86,36.71 555.60,37.34 557.34,37.98 559.09,38.64 560.83,39.32 562.57,40.01 564.31,40.71 566.05,41.43 567.80,42.17 569.54,42.92 571.28,43.69 573.02,44.47 574.76,45.27 576.51,46.09 578.25,46.92 579.99,47.77 581.73,48.64 583.47,49.53 585.22,50.43 586.96,51.35 588.70,52.29 590.44,53.25 592.18,54.23 593.93,55.23 595.67,56.24 597.41,57.27 599.15,58.33 600.89,59.40 602.64,60.49 604.38,61.60 606.12,62.73 607.86,63.89 609.60,65.06 611.35,66.25 613.09,67.47 614.83,68.70 616.57,69.96 618.31,71.24 620.06,72.54 621.80,73.86 623.54,75.21 625.28,76.57 627.02,77.96 628.77,79.37 630.51,80.81 632.25,82.27 633.99,83.75 635.73,85.25 637.48,86.78 639.22,88.33 640.96,89.91 642.70,91.51 644.44,93.13 646.19,94.78 647.93,96.46 649.67,98.16 651.41,99.88 653.15,101.64 654.90,103.41 656.64,105.21 658.38,107.04 660.12,108.90 661.86,110.78 663.61,112.69 665.35,114.62 667.09,116.59 668.83,118.57 670.57,120.59 672.32,122.64 674.06,124.71 675.80,126.81" fill="none" stroke="#ff2424" stroke-width="1.2" stroke-dasharray="4.1 1.7" stroke-linejoin="round"/>
<polyline points="501.60,22.04 503.34,27.45 505.08,32.63 506.83,37.59 508.57,42.32 510.31,46.84 512.05,51.14 513.79,55.23 515.54,59.12 517.28,62.80 519.02,66.29 520.76,69.59 522.50,72.70 524.25,75.63 525.99,78.37 527.73,80.95 529.47,83.35 531.21,85.58 532.96,87.65 534.70,89.57 536.44,91.33 538.18,92.94 539.92,94.40 541.67,95.73 543.41,96.92 545.15,97.97 546.89,98.90 548.63,99.71 550.38,100.39 552.12,100.96 553.86,101.42 555.60,101.77 557.34,102.02 559.09,102.18 560.83,102.24 562.57,102.21 564.31,102.09 566.05,101.89 567.80,101.62 569.54,101.28 571.28,100.86 573.02,100.39 574.76,99.85 576.51,99.26 578.25,98.62 579.99,97.93 581.73,97.20 583.47,96.43 585.22,95.63 586.96,94.80 588.70,93.94 590.44,93.06 592.18,92.17 593.93,91.26 595.67,90.35 597.41,89.43 599.15,88.52 600.89,87.60 602.64,86.70 604.38,85.81 606.12,84.94 607.86,84.09 609.60,83.27 611.35,82.48 613.09,81.72 614.83,81.00 616.57,80.33 618.31,79.70 620.06,79.13 621.80,78.61 623.54,78.15 625.28,77.76 627.02,77.43 628.77,77.19 630.51,77.01 632.25,76.92 633.99,76.92 635.73,77.01 637.48,77.19 639.22,77.47 640.96,77.86 642.70,78.35 644.44,78.95 646.19,79.67 647.93,80.52 649.67,81.48 651.41,82.58 653.15,83.81 654.90,85.18 656.64,86.69 658.38,88.34 660.12,90.15 661.86,92.11 663.61,94.23 665.35,96.52 667.09,98.97 668.83,101.59 670.57,104.39 672.32,107.38 674.06,110.54 675.80,113.90" fill="none" stroke="#ff9c9c" stroke-width="1.2" stroke-dasharray="4.1 1.7" stroke-linejoin="round"/>
</g>
<line x1="493.3" y1="14.1" x2="684.4" y2="14.1" stroke="#9c9c9c" stroke-width="1.3"/>
<line x1="684.4" y1="14.1" x2="684.4" y2="156.3" stroke="#9c9c9c" stroke-width="1.3"/>
<line x1="493.3" y1="13.5" x2="493.3" y2="156.9" stroke="#303030" stroke-width="1.1"/>
<line x1="492.8" y1="156.3" x2="685.0" y2="156.3" stroke="#303030" stroke-width="1.1"/>
<line x1="490.70" y1="147.60" x2="493.30" y2="147.60" stroke="#555" stroke-width="0.9"/>
<text x="487.95" y="150.29" font-size="7.3" text-anchor="end">−0.2</text>
<line x1="490.70" y1="127.20" x2="493.30" y2="127.20" stroke="#555" stroke-width="0.9"/>
<text x="487.95" y="129.89" font-size="7.3" text-anchor="end">0.0</text>
<line x1="490.70" y1="106.80" x2="493.30" y2="106.80" stroke="#555" stroke-width="0.9"/>
<text x="487.95" y="109.49" font-size="7.3" text-anchor="end">0.2</text>
<line x1="490.70" y1="86.40" x2="493.30" y2="86.40" stroke="#555" stroke-width="0.9"/>
<text x="487.95" y="89.09" font-size="7.3" text-anchor="end">0.4</text>
<line x1="490.70" y1="66.00" x2="493.30" y2="66.00" stroke="#555" stroke-width="0.9"/>
<text x="487.95" y="68.69" font-size="7.3" text-anchor="end">0.6</text>
<line x1="490.70" y1="45.60" x2="493.30" y2="45.60" stroke="#555" stroke-width="0.9"/>
<text x="487.95" y="48.29" font-size="7.3" text-anchor="end">0.8</text>
<line x1="490.70" y1="25.20" x2="493.30" y2="25.20" stroke="#555" stroke-width="0.9"/>
<text x="487.95" y="27.89" font-size="7.3" text-anchor="end">1.0</text>
<line x1="501.60" y1="156.30" x2="501.60" y2="158.90" stroke="#555" stroke-width="0.9"/>
<text x="501.60" y="166.90" font-size="7.3" text-anchor="middle">0</text>
<line x1="536.44" y1="156.30" x2="536.44" y2="158.90" stroke="#555" stroke-width="0.9"/>
<text x="536.44" y="166.90" font-size="7.3" text-anchor="middle">20</text>
<line x1="571.28" y1="156.30" x2="571.28" y2="158.90" stroke="#555" stroke-width="0.9"/>
<text x="571.28" y="166.90" font-size="7.3" text-anchor="middle">40</text>
<line x1="606.12" y1="156.30" x2="606.12" y2="158.90" stroke="#555" stroke-width="0.9"/>
<text x="606.12" y="166.90" font-size="7.3" text-anchor="middle">60</text>
<line x1="640.96" y1="156.30" x2="640.96" y2="158.90" stroke="#555" stroke-width="0.9"/>
<text x="640.96" y="166.90" font-size="7.3" text-anchor="middle">80</text>
<line x1="675.80" y1="156.30" x2="675.80" y2="158.90" stroke="#555" stroke-width="0.9"/>
<text x="675.80" y="166.90" font-size="7.3" text-anchor="middle">100</text>
<circle cx="580.20" cy="72.30" r="3.55" fill="#fff" stroke="#e0383c" stroke-width="1.2"/>
<circle cx="581.00" cy="153.20" r="3.55" fill="#fff" stroke="#2ea6e3" stroke-width="1.2"/>
<text x="569.65" y="10.55" font-size="11.6">c</text>
<text x="582.17" y="10.55" font-size="11.6">Maize</text>
<clipPath id="clipd"><rect x="33.6" y="185.2" width="191.10" height="142.10"/></clipPath>
<g clip-path="url(#clipd)">
<line x1="130.10" y1="185.2" x2="130.10" y2="327.3" stroke="#000" stroke-width="1.7"/>
<polyline points="42.20,308.07 43.94,305.55 45.68,303.09 47.43,300.67 49.17,298.30 50.91,295.99 52.65,293.72 54.39,291.50 56.14,289.33 57.88,287.21 59.62,285.14 61.36,283.12 63.10,281.15 64.85,279.23 66.59,277.36 68.33,275.54 70.07,273.76 71.81,272.04 73.56,270.37 75.30,268.74 77.04,267.17 78.78,265.64 80.52,264.17 82.27,262.74 84.01,261.36 85.75,260.04 87.49,258.76 89.23,257.53 90.98,256.35 92.72,255.22 94.46,254.14 96.20,253.11 97.94,252.13 99.69,251.20 101.43,250.32 103.17,249.48 104.91,248.70 106.65,247.97 108.40,247.28 110.14,246.65 111.88,246.07 113.62,245.53 115.36,245.04 117.11,244.61 118.85,244.22 120.59,243.88 122.33,243.60 124.07,243.36 125.82,243.17 127.56,243.03 129.30,242.94 131.04,242.90 132.78,242.91 134.53,242.97 136.27,243.07 138.01,243.23 139.75,243.44 141.49,243.70 143.24,244.00 144.98,244.36 146.72,244.76 148.46,245.22 150.20,245.72 151.95,246.28 153.69,246.88 155.43,247.53 157.17,248.23 158.91,248.99 160.66,249.79 162.40,250.64 164.14,251.54 165.88,252.49 167.62,253.49 169.37,254.53 171.11,255.63 172.85,256.78 174.59,257.98 176.33,259.22 178.08,260.52 179.82,261.87 181.56,263.26 183.30,264.70 185.04,266.20 186.79,267.74 188.53,269.34 190.27,270.98 192.01,272.67 193.75,274.41 195.50,276.20 197.24,278.04 198.98,279.93 200.72,281.87 202.46,283.86 204.21,285.90 205.95,287.99 207.69,290.13 209.43,292.31 211.17,294.55 212.92,296.84 214.66,299.17 216.40,301.56" fill="none" stroke="#1b98d8" stroke-width="2.5" stroke-linecap="butt" stroke-linejoin="round"/>
<polyline points="42.20,219.71 43.94,218.12 45.68,216.59 47.43,215.12 49.17,213.69 50.91,212.32 52.65,211.00 54.39,209.73 56.14,208.52 57.88,207.36 59.62,206.25 61.36,205.19 63.10,204.19 64.85,203.24 66.59,202.34 68.33,201.50 70.07,200.70 71.81,199.96 73.56,199.27 75.30,198.64 77.04,198.06 78.78,197.53 80.52,197.05 82.27,196.62 84.01,196.25 85.75,195.93 87.49,195.66 89.23,195.45 90.98,195.29 92.72,195.18 94.46,195.12 96.20,195.12 97.94,195.17 99.69,195.27 101.43,195.42 103.17,195.63 104.91,195.89 106.65,196.20 108.40,196.56 110.14,196.98 111.88,197.45 113.62,197.97 115.36,198.55 117.11,199.17 118.85,199.85 120.59,200.59 122.33,201.37 124.07,202.21 125.82,203.10 127.56,204.04 129.30,205.04 131.04,206.09 132.78,207.19 134.53,208.34 136.27,209.55 138.01,210.81 139.75,212.12 141.49,213.48 143.24,214.90 144.98,216.37 146.72,217.89 148.46,219.46 150.20,221.09 151.95,222.77 153.69,224.50 155.43,226.29 157.17,228.12 158.91,230.02 160.66,231.96 162.40,233.95 164.14,236.00 165.88,238.10 167.62,240.25 169.37,242.46 171.11,244.72 172.85,247.03 174.59,249.39 176.33,251.81 178.08,254.28 179.82,256.80 181.56,259.37 183.30,262.00 185.04,264.68 186.79,267.41 188.53,270.20 190.27,273.03 192.01,275.92 193.75,278.87 195.50,281.86 197.24,284.91 198.98,288.01 200.72,291.16 202.46,294.37 204.21,297.63 205.95,300.94 207.69,304.30 209.43,307.72 211.17,311.18 212.92,314.71 214.66,318.28 216.40,321.91" fill="none" stroke="#92d8fa" stroke-width="1.2" stroke-dasharray="4.1 1.7" stroke-dashoffset="2.9" stroke-linejoin="round"/>
<polyline points="42.20,246.20 43.94,243.52 45.68,240.90 47.43,238.34 49.17,235.86 50.91,233.44 52.65,231.08 54.39,228.80 56.14,226.58 57.88,224.43 59.62,222.34 61.36,220.33 63.10,218.38 64.85,216.50 66.59,214.68 68.33,212.94 70.07,211.26 71.81,209.64 73.56,208.10 75.30,206.62 77.04,205.22 78.78,203.88 80.52,202.60 82.27,201.40 84.01,200.26 85.75,199.20 87.49,198.20 89.23,197.26 90.98,196.40 92.72,195.61 94.46,194.88 96.20,194.22 97.94,193.63 99.69,193.11 101.43,192.66 103.17,192.28 104.91,191.97 106.65,191.72 108.40,191.54 110.14,191.44 111.88,191.40 113.62,191.43 115.36,191.53 117.11,191.70 118.85,191.94 120.59,192.25 122.33,192.63 124.07,193.07 125.82,193.59 127.56,194.18 129.30,194.84 131.04,195.56 132.78,196.36 134.53,197.22 136.27,198.16 138.01,199.17 139.75,200.24 141.49,201.39 143.24,202.60 144.98,203.89 146.72,205.25 148.46,206.67 150.20,208.17 151.95,209.74 153.69,211.38 155.43,213.09 157.17,214.87 158.91,216.72 160.66,218.64 162.40,220.64 164.14,222.70 165.88,224.83 167.62,227.04 169.37,229.32 171.11,231.66 172.85,234.08 174.59,236.57 176.33,239.14 178.08,241.77 179.82,244.47 181.56,247.25 183.30,250.10 185.04,253.02 186.79,256.01 188.53,259.07 190.27,262.21 192.01,265.42 193.75,268.69 195.50,272.05 197.24,275.47 198.98,278.96 200.72,282.53 202.46,286.17 204.21,289.88 205.95,293.67 207.69,297.53 209.43,301.45 211.17,305.46 212.92,309.53 214.66,313.68 216.40,317.90" fill="none" stroke="#15355f" stroke-width="1.2" stroke-dasharray="4.1 1.7" stroke-linejoin="round"/>
<polyline points="42.20,274.52 43.94,276.80 45.68,279.03 47.43,281.19 49.17,283.30 50.91,285.34 52.65,287.32 54.39,289.24 56.14,291.09 57.88,292.89 59.62,294.62 61.36,296.29 63.10,297.90 64.85,299.45 66.59,300.93 68.33,302.36 70.07,303.72 71.81,305.02 73.56,306.26 75.30,307.43 77.04,308.55 78.78,309.60 80.52,310.59 82.27,311.51 84.01,312.38 85.75,313.18 87.49,313.92 89.23,314.59 90.98,315.21 92.72,315.76 94.46,316.24 96.20,316.67 97.94,317.03 99.69,317.33 101.43,317.57 103.17,317.74 104.91,317.85 106.65,317.90 108.40,317.88 110.14,317.81 111.88,317.66 113.62,317.46 115.36,317.19 117.11,316.86 118.85,316.46 120.59,316.00 122.33,315.48 124.07,314.89 125.82,314.24 127.56,313.53 129.30,312.75 131.04,311.91 132.78,311.00 134.53,310.03 136.27,309.00 138.01,307.90 139.75,306.74 141.49,305.52 143.24,304.23 144.98,302.87 146.72,301.45 148.46,299.97 150.20,298.43 151.95,296.81 153.69,295.14 155.43,293.40 157.17,291.59 158.91,289.72 160.66,287.79 162.40,285.79 164.14,283.72 165.88,281.59 167.62,279.40 169.37,277.14 171.11,274.82 172.85,272.43 174.59,269.97 176.33,267.46 178.08,264.87 179.82,262.22 181.56,259.51 183.30,256.72 185.04,253.88 186.79,250.97 188.53,247.99 190.27,244.95 192.01,241.84 193.75,238.67 195.50,235.43 197.24,232.12 198.98,228.75 200.72,225.31 202.46,221.81 204.21,218.24 205.95,214.60 207.69,210.90 209.43,207.13 211.17,203.30 212.92,199.40 214.66,195.43 216.40,191.40" fill="none" stroke="#c3161c" stroke-width="1.2" stroke-dasharray="4.1 1.7" stroke-linejoin="round"/>
<polyline points="42.20,317.90 43.94,314.66 45.68,311.46 47.43,308.30 49.17,305.20 50.91,302.13 52.65,299.12 54.39,296.14 56.14,293.22 57.88,290.33 59.62,287.50 61.36,284.71 63.10,281.96 64.85,279.26 66.59,276.60 68.33,273.99 70.07,271.43 71.81,268.91 73.56,266.43 75.30,264.00 77.04,261.62 78.78,259.28 80.52,256.99 82.27,254.74 84.01,252.54 85.75,250.38 87.49,248.26 89.23,246.20 90.98,244.18 92.72,242.20 94.46,240.27 96.20,238.38 97.94,236.54 99.69,234.74 101.43,232.99 103.17,231.29 104.91,229.63 106.65,228.01 108.40,226.44 110.14,224.92 111.88,223.44 113.62,222.00 115.36,220.62 117.11,219.27 118.85,217.97 120.59,216.72 122.33,215.51 124.07,214.35 125.82,213.23 127.56,212.16 129.30,211.13 131.04,210.15 132.78,209.22 134.53,208.32 136.27,207.48 138.01,206.68 139.75,205.92 141.49,205.21 143.24,204.55 144.98,203.93 146.72,203.35 148.46,202.83 150.20,202.34 151.95,201.90 153.69,201.51 155.43,201.16 157.17,200.86 158.91,200.60 160.66,200.39 162.40,200.22 164.14,200.10 165.88,200.02 167.62,199.99 169.37,200.01 171.11,200.06 172.85,200.17 174.59,200.32 176.33,200.51 178.08,200.75 179.82,201.04 181.56,201.37 183.30,201.75 185.04,202.17 186.79,202.63 188.53,203.14 190.27,203.70 192.01,204.30 193.75,204.95 195.50,205.64 197.24,206.38 198.98,207.16 200.72,207.99 202.46,208.87 204.21,209.78 205.95,210.75 207.69,211.76 209.43,212.81 211.17,213.91 212.92,215.06 214.66,216.25 216.40,217.48" fill="none" stroke="#2186e0" stroke-width="1.2" stroke-dasharray="4.1 1.7" stroke-linejoin="round"/>
<polyline points="42.20,193.81 43.94,193.43 45.68,193.08 47.43,192.77 49.17,192.48 50.91,192.23 52.65,192.02 54.39,191.83 56.14,191.68 57.88,191.56 59.62,191.47 61.36,191.42 63.10,191.40 64.85,191.41 66.59,191.46 68.33,191.53 70.07,191.64 71.81,191.79 73.56,191.96 75.30,192.17 77.04,192.41 78.78,192.69 80.52,192.99 82.27,193.33 84.01,193.71 85.75,194.11 87.49,194.55 89.23,195.02 90.98,195.52 92.72,196.06 94.46,196.63 96.20,197.23 97.94,197.87 99.69,198.53 101.43,199.23 103.17,199.97 104.91,200.73 106.65,201.53 108.40,202.36 110.14,203.23 111.88,204.12 113.62,205.05 115.36,206.01 117.11,207.01 118.85,208.04 120.59,209.10 122.33,210.19 124.07,211.32 125.82,212.48 127.56,213.67 129.30,214.89 131.04,216.15 132.78,217.44 134.53,218.76 136.27,220.12 138.01,221.51 139.75,222.93 141.49,224.38 143.24,225.87 144.98,227.39 146.72,228.94 148.46,230.53 150.20,232.14 151.95,233.79 153.69,235.48 155.43,237.19 157.17,238.94 158.91,240.72 160.66,242.54 162.40,244.39 164.14,246.26 165.88,248.18 167.62,250.12 169.37,252.10 171.11,254.11 172.85,256.16 174.59,258.23 176.33,260.34 178.08,262.48 179.82,264.66 181.56,266.87 183.30,269.11 185.04,271.38 186.79,273.69 188.53,276.02 190.27,278.40 192.01,280.80 193.75,283.24 195.50,285.71 197.24,288.21 198.98,290.74 200.72,293.31 202.46,295.91 204.21,298.55 205.95,301.21 207.69,303.91 209.43,306.64 211.17,309.41 212.92,312.21 214.66,315.04 216.40,317.90" fill="none" stroke="#ff2424" stroke-width="1.2" stroke-dasharray="4.1 1.7" stroke-linejoin="round"/>
<polyline points="42.20,191.40 43.94,193.35 45.68,195.27 47.43,197.18 49.17,199.07 50.91,200.94 52.65,202.78 54.39,204.61 56.14,206.43 57.88,208.22 59.62,209.99 61.36,211.75 63.10,213.49 64.85,215.20 66.59,216.91 68.33,218.59 70.07,220.25 71.81,221.90 73.56,223.53 75.30,225.14 77.04,226.74 78.78,228.31 80.52,229.87 82.27,231.42 84.01,232.94 85.75,234.45 87.49,235.95 89.23,237.42 90.98,238.88 92.72,240.33 94.46,241.75 96.20,243.17 97.94,244.56 99.69,245.94 101.43,247.30 103.17,248.65 104.91,249.99 106.65,251.30 108.40,252.61 110.14,253.89 111.88,255.17 113.62,256.42 115.36,257.67 117.11,258.89 118.85,260.11 120.59,261.31 122.33,262.49 124.07,263.67 125.82,264.82 127.56,265.97 129.30,267.10 131.04,268.21 132.78,269.31 134.53,270.40 136.27,271.48 138.01,272.54 139.75,273.59 141.49,274.63 143.24,275.65 144.98,276.67 146.72,277.66 148.46,278.65 150.20,279.63 151.95,280.59 153.69,281.54 155.43,282.48 157.17,283.40 158.91,284.32 160.66,285.22 162.40,286.12 164.14,287.00 165.88,287.87 167.62,288.72 169.37,289.57 171.11,290.41 172.85,291.24 174.59,292.05 176.33,292.86 178.08,293.65 179.82,294.44 181.56,295.21 183.30,295.98 185.04,296.73 186.79,297.48 188.53,298.21 190.27,298.94 192.01,299.66 193.75,300.37 195.50,301.06 197.24,301.75 198.98,302.43 200.72,303.11 202.46,303.77 204.21,304.43 205.95,305.07 207.69,305.71 209.43,306.34 211.17,306.96 212.92,307.58 214.66,308.19 216.40,308.79" fill="none" stroke="#ff9c9c" stroke-width="1.2" stroke-dasharray="4.1 1.7" stroke-linejoin="round"/>
</g>
<line x1="33.6" y1="185.2" x2="224.7" y2="185.2" stroke="#9c9c9c" stroke-width="1.3"/>
<line x1="224.7" y1="185.2" x2="224.7" y2="327.3" stroke="#9c9c9c" stroke-width="1.3"/>
<line x1="33.6" y1="184.6" x2="33.6" y2="327.90000000000003" stroke="#303030" stroke-width="1.1"/>
<line x1="33.1" y1="327.3" x2="225.29999999999998" y2="327.3" stroke="#303030" stroke-width="1.1"/>
<line x1="31.00" y1="317.90" x2="33.60" y2="317.90" stroke="#555" stroke-width="0.9"/>
<text x="28.40" y="321.03" font-size="8.5" text-anchor="end">0.0</text>
<line x1="31.00" y1="292.60" x2="33.60" y2="292.60" stroke="#555" stroke-width="0.9"/>
<text x="28.40" y="295.73" font-size="8.5" text-anchor="end">0.2</text>
<line x1="31.00" y1="267.30" x2="33.60" y2="267.30" stroke="#555" stroke-width="0.9"/>
<text x="28.40" y="270.43" font-size="8.5" text-anchor="end">0.4</text>
<line x1="31.00" y1="242.00" x2="33.60" y2="242.00" stroke="#555" stroke-width="0.9"/>
<text x="28.40" y="245.13" font-size="8.5" text-anchor="end">0.6</text>
<line x1="31.00" y1="216.70" x2="33.60" y2="216.70" stroke="#555" stroke-width="0.9"/>
<text x="28.40" y="219.83" font-size="8.5" text-anchor="end">0.8</text>
<line x1="31.00" y1="191.40" x2="33.60" y2="191.40" stroke="#555" stroke-width="0.9"/>
<text x="28.40" y="194.53" font-size="8.5" text-anchor="end">1.0</text>
<line x1="42.20" y1="327.30" x2="42.20" y2="329.90" stroke="#555" stroke-width="0.9"/>
<text x="42.20" y="338.60" font-size="8.5" text-anchor="middle">0</text>
<line x1="77.04" y1="327.30" x2="77.04" y2="329.90" stroke="#555" stroke-width="0.9"/>
<text x="77.04" y="338.60" font-size="8.5" text-anchor="middle">20</text>
<line x1="111.88" y1="327.30" x2="111.88" y2="329.90" stroke="#555" stroke-width="0.9"/>
<text x="111.88" y="338.60" font-size="8.5" text-anchor="middle">40</text>
<line x1="146.72" y1="327.30" x2="146.72" y2="329.90" stroke="#555" stroke-width="0.9"/>
<text x="146.72" y="338.60" font-size="8.5" text-anchor="middle">60</text>
<line x1="181.56" y1="327.30" x2="181.56" y2="329.90" stroke="#555" stroke-width="0.9"/>
<text x="181.56" y="338.60" font-size="8.5" text-anchor="middle">80</text>
<line x1="216.40" y1="327.30" x2="216.40" y2="329.90" stroke="#555" stroke-width="0.9"/>
<text x="216.40" y="338.60" font-size="8.5" text-anchor="middle">100</text>
<circle cx="145.80" cy="215.30" r="3.55" fill="#fff" stroke="#e0383c" stroke-width="1.2"/>
<circle cx="131.10" cy="324.50" r="3.55" fill="#fff" stroke="#2ea6e3" stroke-width="1.2"/>
<text x="106.62" y="182.9" font-size="11.6">d</text>
<text x="120.52" y="182.9" font-size="11.6">Oilseed</text>
<clipPath id="clipe"><rect x="263.6" y="185.1" width="191.20" height="142.10"/></clipPath>
<g clip-path="url(#clipe)">
<line x1="364.35" y1="185.1" x2="364.35" y2="327.2" stroke="#000" stroke-width="1.7"/>
<polyline points="271.90,321.47 273.64,318.55 275.39,315.69 277.13,312.90 278.88,310.19 280.62,307.54 282.36,304.96 284.11,302.45 285.85,300.01 287.60,297.63 289.34,295.32 291.08,293.08 292.83,290.90 294.57,288.79 296.32,286.74 298.06,284.75 299.80,282.83 301.55,280.96 303.29,279.17 305.04,277.43 306.78,275.75 308.52,274.13 310.27,272.57 312.01,271.08 313.76,269.64 315.50,268.25 317.24,266.93 318.99,265.66 320.73,264.45 322.48,263.29 324.22,262.19 325.96,261.14 327.71,260.14 329.45,259.20 331.20,258.32 332.94,257.48 334.68,256.69 336.43,255.96 338.17,255.28 339.92,254.64 341.66,254.06 343.40,253.53 345.15,253.04 346.89,252.60 348.64,252.21 350.38,251.86 352.12,251.56 353.87,251.30 355.61,251.09 357.36,250.93 359.10,250.80 360.84,250.72 362.59,250.69 364.33,250.69 366.08,250.74 367.82,250.82 369.56,250.95 371.31,251.11 373.05,251.32 374.80,251.56 376.54,251.84 378.28,252.16 380.03,252.52 381.77,252.91 383.52,253.34 385.26,253.80 387.00,254.29 388.75,254.82 390.49,255.39 392.24,255.98 393.98,256.61 395.72,257.27 397.47,257.96 399.21,258.68 400.96,259.44 402.70,260.22 404.44,261.03 406.19,261.86 407.93,262.73 409.68,263.62 411.42,264.54 413.16,265.48 414.91,266.45 416.65,267.45 418.40,268.46 420.14,269.51 421.88,270.57 423.63,271.66 425.37,272.77 427.12,273.90 428.86,275.05 430.60,276.22 432.35,277.41 434.09,278.62 435.84,279.85 437.58,281.10 439.32,282.36 441.07,283.64 442.81,284.94 444.56,286.25 446.30,287.58" fill="none" stroke="#1b98d8" stroke-width="2.5" stroke-linecap="butt" stroke-linejoin="round"/>
<polyline points="271.90,222.20 273.64,220.63 275.39,219.12 277.13,217.65 278.88,216.22 280.62,214.85 282.36,213.53 284.11,212.25 285.85,211.02 287.60,209.84 289.34,208.71 291.08,207.63 292.83,206.59 294.57,205.61 296.32,204.67 298.06,203.78 299.80,202.94 301.55,202.15 303.29,201.41 305.04,200.72 306.78,200.07 308.52,199.48 310.27,198.93 312.01,198.44 313.76,197.99 315.50,197.59 317.24,197.24 318.99,196.95 320.73,196.70 322.48,196.50 324.22,196.35 325.96,196.25 327.71,196.20 329.45,196.20 331.20,196.25 332.94,196.35 334.68,196.50 336.43,196.70 338.17,196.95 339.92,197.26 341.66,197.61 343.40,198.01 345.15,198.46 346.89,198.97 348.64,199.52 350.38,200.12 352.12,200.78 353.87,201.49 355.61,202.24 357.36,203.05 359.10,203.91 360.84,204.82 362.59,205.78 364.33,206.80 366.08,207.86 367.82,208.98 369.56,210.14 371.31,211.36 373.05,212.63 374.80,213.95 376.54,215.33 378.28,216.75 380.03,218.23 381.77,219.76 383.52,221.34 385.26,222.97 387.00,224.66 388.75,226.39 390.49,228.18 392.24,230.02 393.98,231.92 395.72,233.86 397.47,235.86 399.21,237.91 400.96,240.02 402.70,242.17 404.44,244.38 406.19,246.65 407.93,248.96 409.68,251.33 411.42,253.75 413.16,256.22 414.91,258.75 416.65,261.33 418.40,263.97 420.14,266.65 421.88,269.39 423.63,272.19 425.37,275.03 427.12,277.93 428.86,280.89 430.60,283.90 432.35,286.96 434.09,290.08 435.84,293.25 437.58,296.47 439.32,299.75 441.07,303.08 442.81,306.47 444.56,309.91 446.30,313.40" fill="none" stroke="#92d8fa" stroke-width="1.2" stroke-dasharray="4.1 1.7" stroke-dashoffset="2.9" stroke-linejoin="round"/>
<polyline points="271.90,270.69 273.64,267.43 275.39,264.24 277.13,261.13 278.88,258.08 280.62,255.11 282.36,252.21 284.11,249.39 285.85,246.63 287.60,243.95 289.34,241.34 291.08,238.80 292.83,236.33 294.57,233.94 296.32,231.62 298.06,229.37 299.80,227.20 301.55,225.10 303.29,223.07 305.04,221.11 306.78,219.23 308.52,217.42 310.27,215.68 312.01,214.02 313.76,212.43 315.50,210.92 317.24,209.47 318.99,208.11 320.73,206.81 322.48,205.59 324.22,204.45 325.96,203.37 327.71,202.38 329.45,201.45 331.20,200.60 332.94,199.83 334.68,199.13 336.43,198.50 338.17,197.95 339.92,197.48 341.66,197.08 343.40,196.75 345.15,196.50 346.89,196.33 348.64,196.22 350.38,196.20 352.12,196.25 353.87,196.38 355.61,196.58 357.36,196.86 359.10,197.21 360.84,197.64 362.59,198.14 364.33,198.72 366.08,199.38 367.82,200.11 369.56,200.92 371.31,201.81 373.05,202.77 374.80,203.81 376.54,204.93 378.28,206.12 380.03,207.39 381.77,208.73 383.52,210.16 385.26,211.66 387.00,213.23 388.75,214.89 390.49,216.62 392.24,218.43 393.98,220.32 395.72,222.28 397.47,224.32 399.21,226.44 400.96,228.64 402.70,230.92 404.44,233.27 406.19,235.70 407.93,238.21 409.68,240.80 411.42,243.47 413.16,246.21 414.91,249.04 416.65,251.94 418.40,254.92 420.14,257.98 421.88,261.12 423.63,264.34 425.37,267.64 427.12,271.01 428.86,274.47 430.60,278.00 432.35,281.62 434.09,285.31 435.84,289.08 437.58,292.94 439.32,296.87 441.07,300.88 442.81,304.97 444.56,309.15 446.30,313.40" fill="none" stroke="#15355f" stroke-width="1.2" stroke-dasharray="4.1 1.7" stroke-linejoin="round"/>
<polyline points="271.90,195.32 273.64,194.83 275.39,194.38 277.13,193.96 278.88,193.56 280.62,193.20 282.36,192.87 284.11,192.57 285.85,192.31 287.60,192.07 289.34,191.86 291.08,191.69 292.83,191.55 294.57,191.44 296.32,191.36 298.06,191.32 299.80,191.30 301.55,191.32 303.29,191.37 305.04,191.46 306.78,191.57 308.52,191.72 310.27,191.90 312.01,192.12 313.76,192.36 315.50,192.64 317.24,192.95 318.99,193.30 320.73,193.67 322.48,194.09 324.22,194.53 325.96,195.01 327.71,195.52 329.45,196.06 331.20,196.64 332.94,197.25 334.68,197.90 336.43,198.58 338.17,199.29 339.92,200.04 341.66,200.82 343.40,201.64 345.15,202.49 346.89,203.37 348.64,204.29 350.38,205.24 352.12,206.23 353.87,207.26 355.61,208.31 357.36,209.41 359.10,210.53 360.84,211.70 362.59,212.89 364.33,214.13 366.08,215.39 367.82,216.70 369.56,218.04 371.31,219.41 373.05,220.82 374.80,222.27 376.54,223.75 378.28,225.27 380.03,226.82 381.77,228.41 383.52,230.04 385.26,231.70 387.00,233.40 388.75,235.14 390.49,236.91 392.24,238.72 393.98,240.56 395.72,242.44 397.47,244.36 399.21,246.32 400.96,248.31 402.70,250.34 404.44,252.41 406.19,254.51 407.93,256.65 409.68,258.83 411.42,261.05 413.16,263.30 414.91,265.59 416.65,267.92 418.40,270.29 420.14,272.70 421.88,275.14 423.63,277.62 425.37,280.14 427.12,282.70 428.86,285.30 430.60,287.93 432.35,290.61 434.09,293.32 435.84,296.07 437.58,298.86 439.32,301.69 441.07,304.56 442.81,307.47 444.56,310.41 446.30,313.40" fill="none" stroke="#c3161c" stroke-width="1.2" stroke-dasharray="4.1 1.7" stroke-linejoin="round"/>
<polyline points="271.90,313.40 273.64,311.24 275.39,309.10 277.13,306.97 278.88,304.87 280.62,302.78 282.36,300.71 284.11,298.65 285.85,296.62 287.60,294.60 289.34,292.60 291.08,290.62 292.83,288.66 294.57,286.72 296.32,284.79 298.06,282.89 299.80,281.00 301.55,279.13 303.29,277.28 305.04,275.46 306.78,273.65 308.52,271.86 310.27,270.09 312.01,268.34 313.76,266.61 315.50,264.90 317.24,263.22 318.99,261.55 320.73,259.90 322.48,258.28 324.22,256.67 325.96,255.09 327.71,253.52 329.45,251.98 331.20,250.46 332.94,248.96 334.68,247.48 336.43,246.03 338.17,244.60 339.92,243.18 341.66,241.79 343.40,240.43 345.15,239.08 346.89,237.76 348.64,236.46 350.38,235.19 352.12,233.93 353.87,232.70 355.61,231.50 357.36,230.31 359.10,229.15 360.84,228.01 362.59,226.90 364.33,225.81 366.08,224.75 367.82,223.71 369.56,222.69 371.31,221.70 373.05,220.73 374.80,219.79 376.54,218.87 378.28,217.97 380.03,217.11 381.77,216.26 383.52,215.44 385.26,214.65 387.00,213.88 388.75,213.14 390.49,212.43 392.24,211.74 393.98,211.07 395.72,210.44 397.47,209.82 399.21,209.24 400.96,208.68 402.70,208.15 404.44,207.65 406.19,207.17 407.93,206.72 409.68,206.29 411.42,205.90 413.16,205.53 414.91,205.19 416.65,204.87 418.40,204.59 420.14,204.33 421.88,204.10 423.63,203.90 425.37,203.73 427.12,203.58 428.86,203.47 430.60,203.38 432.35,203.32 434.09,203.29 435.84,203.29 437.58,203.32 439.32,203.38 441.07,203.47 442.81,203.58 444.56,203.73 446.30,203.91" fill="none" stroke="#2186e0" stroke-width="1.2" stroke-dasharray="4.1 1.7" stroke-linejoin="round"/>
<polyline points="271.90,196.20 273.64,196.48 275.39,196.77 277.13,197.08 278.88,197.40 280.62,197.73 282.36,198.08 284.11,198.44 285.85,198.82 287.60,199.21 289.34,199.62 291.08,200.04 292.83,200.47 294.57,200.92 296.32,201.39 298.06,201.87 299.80,202.36 301.55,202.87 303.29,203.40 305.04,203.94 306.78,204.50 308.52,205.08 310.27,205.67 312.01,206.27 313.76,206.90 315.50,207.54 317.24,208.20 318.99,208.87 320.73,209.56 322.48,210.27 324.22,210.99 325.96,211.74 327.71,212.50 329.45,213.28 331.20,214.07 332.94,214.89 334.68,215.72 336.43,216.57 338.17,217.44 339.92,218.33 341.66,219.24 343.40,220.16 345.15,221.11 346.89,222.07 348.64,223.06 350.38,224.06 352.12,225.08 353.87,226.13 355.61,227.19 357.36,228.27 359.10,229.37 360.84,230.50 362.59,231.64 364.33,232.80 366.08,233.99 367.82,235.19 369.56,236.42 371.31,237.67 373.05,238.94 374.80,240.23 376.54,241.54 378.28,242.88 380.03,244.23 381.77,245.61 383.52,247.01 385.26,248.43 387.00,249.88 388.75,251.35 390.49,252.84 392.24,254.35 393.98,255.89 395.72,257.45 397.47,259.03 399.21,260.64 400.96,262.27 402.70,263.92 404.44,265.60 406.19,267.30 407.93,269.03 409.68,270.78 411.42,272.55 413.16,274.35 414.91,276.17 416.65,278.02 418.40,279.90 420.14,281.80 421.88,283.72 423.63,285.67 425.37,287.65 427.12,289.65 428.86,291.67 430.60,293.73 432.35,295.81 434.09,297.91 435.84,300.04 437.58,302.20 439.32,304.39 441.07,306.60 442.81,308.84 444.56,311.11 446.30,313.40" fill="none" stroke="#ff2424" stroke-width="1.2" stroke-dasharray="4.1 1.7" stroke-linejoin="round"/>
<polyline points="271.90,196.20 273.64,202.18 275.39,207.91 277.13,213.38 278.88,218.61 280.62,223.60 282.36,228.36 284.11,232.88 285.85,237.18 287.60,241.25 289.34,245.11 291.08,248.76 292.83,252.20 294.57,255.43 296.32,258.47 298.06,261.32 299.80,263.97 301.55,266.45 303.29,268.74 305.04,270.86 306.78,272.81 308.52,274.60 310.27,276.22 312.01,277.70 313.76,279.02 315.50,280.19 317.24,281.22 318.99,282.12 320.73,282.89 322.48,283.53 324.22,284.04 325.96,284.44 327.71,284.73 329.45,284.91 331.20,284.98 332.94,284.96 334.68,284.84 336.43,284.64 338.17,284.35 339.92,283.98 341.66,283.54 343.40,283.02 345.15,282.44 346.89,281.81 348.64,281.11 350.38,280.36 352.12,279.57 353.87,278.74 355.61,277.87 357.36,276.96 359.10,276.03 360.84,275.08 362.59,274.11 364.33,273.12 366.08,272.13 367.82,271.14 369.56,270.14 371.31,269.15 373.05,268.17 374.80,267.21 376.54,266.27 378.28,265.35 380.03,264.46 381.77,263.60 383.52,262.79 385.26,262.01 387.00,261.29 388.75,260.62 390.49,260.01 392.24,259.46 393.98,258.97 395.72,258.56 397.47,258.23 399.21,257.97 400.96,257.81 402.70,257.73 404.44,257.75 406.19,257.88 407.93,258.10 409.68,258.44 411.42,258.89 413.16,259.46 414.91,260.15 416.65,260.98 418.40,261.94 420.14,263.03 421.88,264.27 423.63,265.66 425.37,267.20 427.12,268.89 428.86,270.75 430.60,272.78 432.35,274.98 434.09,277.35 435.84,279.90 437.58,282.64 439.32,285.58 441.07,288.70 442.81,292.03 444.56,295.56 446.30,299.30" fill="none" stroke="#ff9c9c" stroke-width="1.2" stroke-dasharray="4.1 1.7" stroke-linejoin="round"/>
</g>
<line x1="263.6" y1="185.1" x2="454.8" y2="185.1" stroke="#9c9c9c" stroke-width="1.3"/>
<line x1="454.8" y1="185.1" x2="454.8" y2="327.2" stroke="#9c9c9c" stroke-width="1.3"/>
<line x1="263.6" y1="184.5" x2="263.6" y2="327.8" stroke="#303030" stroke-width="1.1"/>
<line x1="263.1" y1="327.2" x2="455.40000000000003" y2="327.2" stroke="#303030" stroke-width="1.1"/>
<line x1="261.00" y1="313.40" x2="263.60" y2="313.40" stroke="#555" stroke-width="0.9"/>
<text x="258.40" y="316.53" font-size="8.5" text-anchor="end">0.0</text>
<line x1="261.00" y1="289.96" x2="263.60" y2="289.96" stroke="#555" stroke-width="0.9"/>
<text x="258.40" y="293.09" font-size="8.5" text-anchor="end">0.2</text>
<line x1="261.00" y1="266.52" x2="263.60" y2="266.52" stroke="#555" stroke-width="0.9"/>
<text x="258.40" y="269.65" font-size="8.5" text-anchor="end">0.4</text>
<line x1="261.00" y1="243.08" x2="263.60" y2="243.08" stroke="#555" stroke-width="0.9"/>
<text x="258.40" y="246.21" font-size="8.5" text-anchor="end">0.6</text>
<line x1="261.00" y1="219.64" x2="263.60" y2="219.64" stroke="#555" stroke-width="0.9"/>
<text x="258.40" y="222.77" font-size="8.5" text-anchor="end">0.8</text>
<line x1="261.00" y1="196.20" x2="263.60" y2="196.20" stroke="#555" stroke-width="0.9"/>
<text x="258.40" y="199.33" font-size="8.5" text-anchor="end">1.0</text>
<line x1="271.90" y1="327.20" x2="271.90" y2="329.80" stroke="#555" stroke-width="0.9"/>
<text x="271.90" y="338.50" font-size="8.5" text-anchor="middle">0</text>
<line x1="306.78" y1="327.20" x2="306.78" y2="329.80" stroke="#555" stroke-width="0.9"/>
<text x="306.78" y="338.50" font-size="8.5" text-anchor="middle">20</text>
<line x1="341.66" y1="327.20" x2="341.66" y2="329.80" stroke="#555" stroke-width="0.9"/>
<text x="341.66" y="338.50" font-size="8.5" text-anchor="middle">40</text>
<line x1="376.54" y1="327.20" x2="376.54" y2="329.80" stroke="#555" stroke-width="0.9"/>
<text x="376.54" y="338.50" font-size="8.5" text-anchor="middle">60</text>
<line x1="411.42" y1="327.20" x2="411.42" y2="329.80" stroke="#555" stroke-width="0.9"/>
<text x="411.42" y="338.50" font-size="8.5" text-anchor="middle">80</text>
<line x1="446.30" y1="327.20" x2="446.30" y2="329.80" stroke="#555" stroke-width="0.9"/>
<text x="446.30" y="338.50" font-size="8.5" text-anchor="middle">100</text>
<circle cx="374.80" cy="215.10" r="3.55" fill="#fff" stroke="#e0383c" stroke-width="1.2"/>
<circle cx="364.10" cy="324.60" r="3.55" fill="#fff" stroke="#2ea6e3" stroke-width="1.2"/>
<text x="340.55" y="183.9" font-size="11.6">e</text>
<text x="353.52" y="183.9" font-size="11.6">Cotton</text>
<clipPath id="clipf"><rect x="493.5" y="185.4" width="190.90" height="141.80"/></clipPath>
<g clip-path="url(#clipf)">
<line x1="591.70" y1="185.4" x2="591.70" y2="327.2" stroke="#000" stroke-width="1.7"/>
<polyline points="501.60,316.45 503.34,313.58 505.08,310.77 506.83,308.01 508.57,305.31 510.31,302.66 512.05,300.08 513.79,297.54 515.54,295.07 517.28,292.65 519.02,290.28 520.76,287.97 522.50,285.72 524.25,283.52 525.99,281.38 527.73,279.30 529.47,277.27 531.21,275.30 532.96,273.38 534.70,271.52 536.44,269.71 538.18,267.96 539.92,266.27 541.67,264.63 543.41,263.05 545.15,261.53 546.89,260.06 548.63,258.64 550.38,257.29 552.12,255.99 553.86,254.74 555.60,253.55 557.34,252.42 559.09,251.34 560.83,250.32 562.57,249.35 564.31,248.44 566.05,247.59 567.80,246.79 569.54,246.05 571.28,245.36 573.02,244.73 574.76,244.16 576.51,243.64 578.25,243.18 579.99,242.78 581.73,242.43 583.47,242.13 585.22,241.89 586.96,241.71 588.70,241.59 590.44,241.51 592.18,241.50 593.93,241.54 595.67,241.64 597.41,241.79 599.15,242.00 600.89,242.27 602.64,242.59 604.38,242.97 606.12,243.40 607.86,243.89 609.60,244.44 611.35,245.04 613.09,245.70 614.83,246.41 616.57,247.18 618.31,248.00 620.06,248.88 621.80,249.82 623.54,250.81 625.28,251.86 627.02,252.97 628.77,254.13 630.51,255.35 632.25,256.62 633.99,257.95 635.73,259.33 637.48,260.77 639.22,262.27 640.96,263.82 642.70,265.43 644.44,267.10 646.19,268.82 647.93,270.59 649.67,272.43 651.41,274.32 653.15,276.26 654.90,278.26 656.64,280.32 658.38,282.43 660.12,284.60 661.86,286.82 663.61,289.10 665.35,291.44 667.09,293.83 668.83,296.28 670.57,298.78 672.32,301.34 674.06,303.96 675.80,306.63" fill="none" stroke="#1b98d8" stroke-width="2.5" stroke-linecap="butt" stroke-linejoin="round"/>
<polyline points="501.60,233.95 503.34,231.66 505.08,229.43 506.83,227.26 508.57,225.16 510.31,223.13 512.05,221.15 513.79,219.24 515.54,217.40 517.28,215.62 519.02,213.90 520.76,212.25 522.50,210.66 524.25,209.13 525.99,207.67 527.73,206.27 529.47,204.94 531.21,203.67 532.96,202.47 534.70,201.32 536.44,200.25 538.18,199.23 539.92,198.28 541.67,197.40 543.41,196.58 545.15,195.82 546.89,195.12 548.63,194.49 550.38,193.93 552.12,193.43 553.86,192.99 555.60,192.61 557.34,192.30 559.09,192.06 560.83,191.87 562.57,191.75 564.31,191.70 566.05,191.71 567.80,191.78 569.54,191.92 571.28,192.12 573.02,192.39 574.76,192.72 576.51,193.11 578.25,193.56 579.99,194.09 581.73,194.67 583.47,195.32 585.22,196.03 586.96,196.81 588.70,197.65 590.44,198.55 592.18,199.52 593.93,200.55 595.67,201.65 597.41,202.81 599.15,204.04 600.89,205.32 602.64,206.68 604.38,208.09 606.12,209.57 607.86,211.12 609.60,212.72 611.35,214.39 613.09,216.13 614.83,217.93 616.57,219.79 618.31,221.72 620.06,223.71 621.80,225.77 623.54,227.89 625.28,230.07 627.02,232.32 628.77,234.63 630.51,237.00 632.25,239.44 633.99,241.95 635.73,244.51 637.48,247.14 639.22,249.84 640.96,252.60 642.70,255.42 644.44,258.31 646.19,261.26 647.93,264.27 649.67,267.35 651.41,270.49 653.15,273.70 654.90,276.97 656.64,280.30 658.38,283.70 660.12,287.16 661.86,290.69 663.61,294.28 665.35,297.93 667.09,301.65 668.83,305.43 670.57,309.28 672.32,313.19 674.06,317.16 675.80,321.20" fill="none" stroke="#92d8fa" stroke-width="1.2" stroke-dasharray="4.1 1.7" stroke-dashoffset="2.9" stroke-linejoin="round"/>
<polyline points="501.60,262.02 503.34,258.75 505.08,255.55 506.83,252.43 508.57,249.39 510.31,246.42 512.05,243.54 513.79,240.73 515.54,238.00 517.28,235.35 519.02,232.78 520.76,230.28 522.50,227.87 524.25,225.53 525.99,223.27 527.73,221.08 529.47,218.98 531.21,216.95 532.96,215.01 534.70,213.14 536.44,211.35 538.18,209.63 539.92,208.00 541.67,206.44 543.41,204.96 545.15,203.56 546.89,202.24 548.63,200.99 550.38,199.83 552.12,198.74 553.86,197.73 555.60,196.79 557.34,195.94 559.09,195.17 560.83,194.47 562.57,193.85 564.31,193.31 566.05,192.84 567.80,192.46 569.54,192.15 571.28,191.92 573.02,191.77 574.76,191.70 576.51,191.71 578.25,191.79 579.99,191.95 581.73,192.19 583.47,192.51 585.22,192.91 586.96,193.38 588.70,193.93 590.44,194.56 592.18,195.27 593.93,196.06 595.67,196.93 597.41,197.87 599.15,198.89 600.89,199.99 602.64,201.17 604.38,202.42 606.12,203.76 607.86,205.17 609.60,206.66 611.35,208.23 613.09,209.88 614.83,211.60 616.57,213.40 618.31,215.28 620.06,217.24 621.80,219.28 623.54,221.40 625.28,223.59 627.02,225.86 628.77,228.21 630.51,230.64 632.25,233.15 633.99,235.73 635.73,238.39 637.48,241.13 639.22,243.95 640.96,246.85 642.70,249.83 644.44,252.88 646.19,256.01 647.93,259.22 649.67,262.51 651.41,265.87 653.15,269.32 654.90,272.84 656.64,276.44 658.38,280.12 660.12,283.87 661.86,287.71 663.61,291.62 665.35,295.61 667.09,299.68 668.83,303.83 670.57,308.05 672.32,312.36 674.06,316.74 675.80,321.20" fill="none" stroke="#15355f" stroke-width="1.2" stroke-dasharray="4.1 1.7" stroke-linejoin="round"/>
<polyline points="501.60,276.10 503.34,278.55 505.08,280.92 506.83,283.23 508.57,285.47 510.31,287.64 512.05,289.74 513.79,291.77 515.54,293.73 517.28,295.63 519.02,297.45 520.76,299.21 522.50,300.90 524.25,302.52 525.99,304.07 527.73,305.56 529.47,306.98 531.21,308.33 532.96,309.61 534.70,310.82 536.44,311.97 538.18,313.05 539.92,314.06 541.67,315.01 543.41,315.88 545.15,316.69 546.89,317.44 548.63,318.11 550.38,318.72 552.12,319.26 553.86,319.74 555.60,320.15 557.34,320.49 559.09,320.76 560.83,320.97 562.57,321.11 564.31,321.19 566.05,321.20 567.80,321.14 569.54,321.02 571.28,320.83 573.02,320.58 574.76,320.26 576.51,319.87 578.25,319.42 579.99,318.90 581.73,318.32 583.47,317.67 585.22,316.96 586.96,316.18 588.70,315.33 590.44,314.43 592.18,313.45 593.93,312.41 595.67,311.31 597.41,310.14 599.15,308.90 600.89,307.60 602.64,306.24 604.38,304.81 606.12,303.32 607.86,301.77 609.60,300.14 611.35,298.46 613.09,296.71 614.83,294.90 616.57,293.02 618.31,291.08 620.06,289.07 621.80,287.01 623.54,284.87 625.28,282.68 627.02,280.42 628.77,278.10 630.51,275.71 632.25,273.26 633.99,270.75 635.73,268.17 637.48,265.53 639.22,262.83 640.96,260.07 642.70,257.24 644.44,254.35 646.19,251.40 647.93,248.38 649.67,245.31 651.41,242.17 653.15,238.96 654.90,235.70 656.64,232.37 658.38,228.98 660.12,225.53 661.86,222.02 663.61,218.45 665.35,214.81 667.09,211.11 668.83,207.35 670.57,203.53 672.32,199.65 674.06,195.71 675.80,191.70" fill="none" stroke="#c3161c" stroke-width="1.2" stroke-dasharray="4.1 1.7" stroke-linejoin="round"/>
<polyline points="501.60,313.81 503.34,310.61 505.08,307.46 506.83,304.35 508.57,301.30 510.31,298.30 512.05,295.35 513.79,292.44 515.54,289.59 517.28,286.78 519.02,284.03 520.76,281.32 522.50,278.66 524.25,276.05 525.99,273.49 527.73,270.98 529.47,268.52 531.21,266.10 532.96,263.74 534.70,261.42 536.44,259.15 538.18,256.93 539.92,254.75 541.67,252.63 543.41,250.55 545.15,248.52 546.89,246.54 548.63,244.61 550.38,242.72 552.12,240.89 553.86,239.10 555.60,237.36 557.34,235.66 559.09,234.01 560.83,232.41 562.57,230.86 564.31,229.36 566.05,227.90 567.80,226.49 569.54,225.12 571.28,223.81 573.02,222.54 574.76,221.31 576.51,220.14 578.25,219.01 579.99,217.93 581.73,216.89 583.47,215.90 585.22,214.96 586.96,214.06 588.70,213.21 590.44,212.40 592.18,211.65 593.93,210.93 595.67,210.27 597.41,209.65 599.15,209.07 600.89,208.54 602.64,208.06 604.38,207.62 606.12,207.23 607.86,206.89 609.60,206.59 611.35,206.33 613.09,206.12 614.83,205.96 616.57,205.84 618.31,205.76 620.06,205.73 621.80,205.75 623.54,205.81 625.28,205.92 627.02,206.07 628.77,206.26 630.51,206.50 632.25,206.79 633.99,207.11 635.73,207.49 637.48,207.91 639.22,208.37 640.96,208.87 642.70,209.42 644.44,210.02 646.19,210.66 647.93,211.34 649.67,212.07 651.41,212.84 653.15,213.65 654.90,214.51 656.64,215.41 658.38,216.35 660.12,217.34 661.86,218.37 663.61,219.45 665.35,220.57 667.09,221.73 668.83,222.93 670.57,224.18 672.32,225.47 674.06,226.81 675.80,228.18" fill="none" stroke="#2186e0" stroke-width="1.2" stroke-dasharray="4.1 1.7" stroke-linejoin="round"/>
<polyline points="501.60,193.95 503.34,193.59 505.08,193.27 506.83,192.97 508.57,192.71 510.31,192.48 512.05,192.27 513.79,192.10 515.54,191.96 517.28,191.85 519.02,191.77 520.76,191.72 522.50,191.70 524.25,191.71 525.99,191.76 527.73,191.83 529.47,191.94 531.21,192.08 532.96,192.25 534.70,192.45 536.44,192.69 538.18,192.95 539.92,193.25 541.67,193.58 543.41,193.94 545.15,194.33 546.89,194.76 548.63,195.22 550.38,195.71 552.12,196.23 553.86,196.79 555.60,197.37 557.34,198.00 559.09,198.65 560.83,199.33 562.57,200.05 564.31,200.81 566.05,201.59 567.80,202.41 569.54,203.26 571.28,204.15 573.02,205.06 574.76,206.02 576.51,207.00 578.25,208.02 579.99,209.07 581.73,210.16 583.47,211.28 585.22,212.44 586.96,213.62 588.70,214.85 590.44,216.10 592.18,217.39 593.93,218.72 595.67,220.08 597.41,221.47 599.15,222.90 600.89,224.36 602.64,225.86 604.38,227.40 606.12,228.96 607.86,230.57 609.60,232.20 611.35,233.88 613.09,235.59 614.83,237.33 616.57,239.11 618.31,240.92 620.06,242.77 621.80,244.66 623.54,246.58 625.28,248.54 627.02,250.53 628.77,252.56 630.51,254.62 632.25,256.72 633.99,258.86 635.73,261.03 637.48,263.24 639.22,265.49 640.96,267.77 642.70,270.09 644.44,272.44 646.19,274.84 647.93,277.27 649.67,279.73 651.41,282.23 653.15,284.77 654.90,287.35 656.64,289.97 658.38,292.62 660.12,295.31 661.86,298.03 663.61,300.80 665.35,303.60 667.09,306.44 668.83,309.31 670.57,312.23 672.32,315.18 674.06,318.17 675.80,321.20" fill="none" stroke="#ff2424" stroke-width="1.2" stroke-dasharray="4.1 1.7" stroke-linejoin="round"/>
<polyline points="501.60,191.70 503.34,194.34 505.08,196.95 506.83,199.54 508.57,202.09 510.31,204.62 512.05,207.11 513.79,209.58 515.54,212.02 517.28,214.43 519.02,216.81 520.76,219.16 522.50,221.49 524.25,223.78 525.99,226.04 527.73,228.28 529.47,230.49 531.21,232.67 532.96,234.81 534.70,236.93 536.44,239.03 538.18,241.09 539.92,243.12 541.67,245.12 543.41,247.10 545.15,249.05 546.89,250.96 548.63,252.85 550.38,254.71 552.12,256.54 553.86,258.34 555.60,260.11 557.34,261.86 559.09,263.57 560.83,265.25 562.57,266.91 564.31,268.54 566.05,270.14 567.80,271.71 569.54,273.25 571.28,274.76 573.02,276.24 574.76,277.69 576.51,279.12 578.25,280.51 579.99,281.88 581.73,283.22 583.47,284.52 585.22,285.80 586.96,287.05 588.70,288.28 590.44,289.47 592.18,290.63 593.93,291.77 595.67,292.87 597.41,293.95 599.15,294.99 600.89,296.01 602.64,297.00 604.38,297.96 606.12,298.89 607.86,299.80 609.60,300.67 611.35,301.52 613.09,302.33 614.83,303.12 616.57,303.88 618.31,304.60 620.06,305.30 621.80,305.97 623.54,306.62 625.28,307.23 627.02,307.81 628.77,308.37 630.51,308.89 632.25,309.39 633.99,309.86 635.73,310.30 637.48,310.71 639.22,311.09 640.96,311.44 642.70,311.76 644.44,312.06 646.19,312.32 647.93,312.56 649.67,312.76 651.41,312.94 653.15,313.09 654.90,313.21 656.64,313.30 658.38,313.36 660.12,313.40 661.86,313.40 663.61,313.38 665.35,313.32 667.09,313.24 668.83,313.13 670.57,312.99 672.32,312.82 674.06,312.62 675.80,312.39" fill="none" stroke="#ff9c9c" stroke-width="1.2" stroke-dasharray="4.1 1.7" stroke-linejoin="round"/>
</g>
<line x1="493.5" y1="185.4" x2="684.4" y2="185.4" stroke="#9c9c9c" stroke-width="1.3"/>
<line x1="684.4" y1="185.4" x2="684.4" y2="327.2" stroke="#9c9c9c" stroke-width="1.3"/>
<line x1="493.5" y1="184.8" x2="493.5" y2="327.8" stroke="#303030" stroke-width="1.1"/>
<line x1="493.0" y1="327.2" x2="685.0" y2="327.2" stroke="#303030" stroke-width="1.1"/>
<line x1="490.90" y1="321.20" x2="493.50" y2="321.20" stroke="#555" stroke-width="0.9"/>
<text x="488.30" y="324.33" font-size="8.5" text-anchor="end">0.0</text>
<line x1="490.90" y1="295.30" x2="493.50" y2="295.30" stroke="#555" stroke-width="0.9"/>
<text x="488.30" y="298.43" font-size="8.5" text-anchor="end">0.2</text>
<line x1="490.90" y1="269.40" x2="493.50" y2="269.40" stroke="#555" stroke-width="0.9"/>
<text x="488.30" y="272.53" font-size="8.5" text-anchor="end">0.4</text>
<line x1="490.90" y1="243.50" x2="493.50" y2="243.50" stroke="#555" stroke-width="0.9"/>
<text x="488.30" y="246.63" font-size="8.5" text-anchor="end">0.6</text>
<line x1="490.90" y1="217.60" x2="493.50" y2="217.60" stroke="#555" stroke-width="0.9"/>
<text x="488.30" y="220.73" font-size="8.5" text-anchor="end">0.8</text>
<line x1="490.90" y1="191.70" x2="493.50" y2="191.70" stroke="#555" stroke-width="0.9"/>
<text x="488.30" y="194.83" font-size="8.5" text-anchor="end">1.0</text>
<line x1="501.60" y1="327.20" x2="501.60" y2="329.80" stroke="#555" stroke-width="0.9"/>
<text x="501.60" y="338.50" font-size="8.5" text-anchor="middle">0</text>
<line x1="536.44" y1="327.20" x2="536.44" y2="329.80" stroke="#555" stroke-width="0.9"/>
<text x="536.44" y="338.50" font-size="8.5" text-anchor="middle">20</text>
<line x1="571.28" y1="327.20" x2="571.28" y2="329.80" stroke="#555" stroke-width="0.9"/>
<text x="571.28" y="338.50" font-size="8.5" text-anchor="middle">40</text>
<line x1="606.12" y1="327.20" x2="606.12" y2="329.80" stroke="#555" stroke-width="0.9"/>
<text x="606.12" y="338.50" font-size="8.5" text-anchor="middle">60</text>
<line x1="640.96" y1="327.20" x2="640.96" y2="329.80" stroke="#555" stroke-width="0.9"/>
<text x="640.96" y="338.50" font-size="8.5" text-anchor="middle">80</text>
<line x1="675.80" y1="327.20" x2="675.80" y2="329.80" stroke="#555" stroke-width="0.9"/>
<text x="675.80" y="338.50" font-size="8.5" text-anchor="middle">100</text>
<circle cx="615.30" cy="216.70" r="3.55" fill="#fff" stroke="#e0383c" stroke-width="1.2"/>
<circle cx="591.20" cy="324.60" r="3.55" fill="#fff" stroke="#2ea6e3" stroke-width="1.2"/>
<text x="569.50" y="183.8" font-size="11.6">f</text>
<text x="576.62" y="183.8" font-size="11.6">Potato</text>
<clipPath id="clipg"><rect x="33.4" y="356.1" width="191.30" height="142.20"/></clipPath>
<g clip-path="url(#clipg)">
<line x1="145.80" y1="356.1" x2="145.80" y2="498.3" stroke="#000" stroke-width="1.7"/>
<polyline points="42.40,492.41 44.14,488.93 45.88,485.52 47.62,482.19 49.36,478.92 51.10,475.72 52.84,472.60 54.58,469.54 56.32,466.55 58.06,463.62 59.80,460.77 61.54,457.98 63.28,455.26 65.02,452.61 66.76,450.02 68.50,447.50 70.24,445.05 71.98,442.66 73.72,440.33 75.46,438.07 77.20,435.87 78.94,433.74 80.68,431.66 82.42,429.65 84.16,427.71 85.90,425.82 87.64,424.00 89.38,422.23 91.12,420.53 92.86,418.89 94.60,417.31 96.34,415.78 98.08,414.32 99.82,412.91 101.56,411.57 103.30,410.28 105.04,409.04 106.78,407.87 108.52,406.75 110.26,405.68 112.00,404.68 113.74,403.73 115.48,402.83 117.22,401.99 118.96,401.20 120.70,400.46 122.44,399.78 124.18,399.15 125.92,398.58 127.66,398.05 129.40,397.58 131.14,397.16 132.88,396.79 134.62,396.47 136.36,396.20 138.10,395.98 139.84,395.81 141.58,395.69 143.32,395.62 145.06,395.59 146.80,395.62 148.54,395.69 150.28,395.81 152.02,395.97 153.76,396.18 155.50,396.43 157.24,396.74 158.98,397.08 160.72,397.47 162.46,397.91 164.20,398.38 165.94,398.91 167.68,399.47 169.42,400.08 171.16,400.73 172.90,401.42 174.64,402.15 176.38,402.92 178.12,403.73 179.86,404.59 181.60,405.48 183.34,406.41 185.08,407.38 186.82,408.39 188.56,409.44 190.30,410.52 192.04,411.65 193.78,412.81 195.52,414.00 197.26,415.23 199.00,416.50 200.74,417.80 202.48,419.14 204.22,420.51 205.96,421.92 207.70,423.36 209.44,424.83 211.18,426.34 212.92,427.87 214.66,429.44 216.40,431.05" fill="none" stroke="#1b98d8" stroke-width="2.5" stroke-linecap="butt" stroke-linejoin="round"/>
<polyline points="42.40,469.60 44.14,466.21 45.88,462.86 47.62,459.57 49.36,456.32 51.10,453.13 52.84,449.99 54.58,446.90 56.32,443.86 58.06,440.88 59.80,437.95 61.54,435.06 63.28,432.24 65.02,429.46 66.76,426.74 68.50,424.07 70.24,421.45 71.98,418.89 73.72,416.38 75.46,413.92 77.20,411.52 78.94,409.17 80.68,406.88 82.42,404.64 84.16,402.46 85.90,400.34 87.64,398.26 89.38,396.25 91.12,394.29 92.86,392.38 94.60,390.54 96.34,388.74 98.08,387.01 99.82,385.33 101.56,383.71 103.30,382.15 105.04,380.64 106.78,379.19 108.52,377.80 110.26,376.47 112.00,375.20 113.74,373.98 115.48,372.83 117.22,371.73 118.96,370.69 120.70,369.71 122.44,368.79 124.18,367.93 125.92,367.13 127.66,366.40 129.40,365.72 131.14,365.10 132.88,364.54 134.62,364.05 136.36,363.61 138.10,363.24 139.84,362.93 141.58,362.68 143.32,362.49 145.06,362.36 146.80,362.30 148.54,362.30 150.28,362.36 152.02,362.49 153.76,362.68 155.50,362.93 157.24,363.25 158.98,363.63 160.72,364.07 162.46,364.58 164.20,365.16 165.94,365.80 167.68,366.50 169.42,367.27 171.16,368.10 172.90,369.00 174.64,369.97 176.38,371.00 178.12,372.10 179.86,373.26 181.60,374.50 183.34,375.79 185.08,377.16 186.82,378.59 188.56,380.09 190.30,381.66 192.04,383.30 193.78,385.00 195.52,386.77 197.26,388.61 199.00,390.52 200.74,392.50 202.48,394.55 204.22,396.67 205.96,398.86 207.70,401.11 209.44,403.44 211.18,405.84 212.92,408.30 214.66,410.84 216.40,413.45" fill="none" stroke="#92d8fa" stroke-width="1.2" stroke-dasharray="4.1 1.7" stroke-dashoffset="2.9" stroke-linejoin="round"/>
<polyline points="42.40,469.60 44.14,466.15 45.88,462.75 47.62,459.41 49.36,456.13 51.10,452.90 52.84,449.73 54.58,446.62 56.32,443.56 58.06,440.56 59.80,437.62 61.54,434.73 63.28,431.90 65.02,429.13 66.76,426.41 68.50,423.75 70.24,421.14 71.98,418.59 73.72,416.10 75.46,413.66 77.20,411.28 78.94,408.96 80.68,406.69 82.42,404.48 84.16,402.33 85.90,400.23 87.64,398.19 89.38,396.20 91.12,394.28 92.86,392.41 94.60,390.59 96.34,388.83 98.08,387.13 99.82,385.48 101.56,383.89 103.30,382.36 105.04,380.88 106.78,379.46 108.52,378.10 110.26,376.79 112.00,375.54 113.74,374.35 115.48,373.21 117.22,372.13 118.96,371.10 120.70,370.13 122.44,369.22 124.18,368.36 125.92,367.57 127.66,366.82 129.40,366.14 131.14,365.51 132.88,364.93 134.62,364.41 136.36,363.95 138.10,363.55 139.84,363.20 141.58,362.91 143.32,362.68 145.06,362.50 146.80,362.37 148.54,362.31 150.28,362.30 152.02,362.35 153.76,362.45 155.50,362.61 157.24,362.83 158.98,363.10 160.72,363.43 162.46,363.82 164.20,364.26 165.94,364.76 167.68,365.31 169.42,365.92 171.16,366.59 172.90,367.32 174.64,368.10 176.38,368.93 178.12,369.83 179.86,370.78 181.60,371.78 183.34,372.85 185.08,373.97 186.82,375.14 188.56,376.38 190.30,377.66 192.04,379.01 193.78,380.41 195.52,381.87 197.26,383.38 199.00,384.96 200.74,386.58 202.48,388.27 204.22,390.01 205.96,391.80 207.70,393.66 209.44,395.57 211.18,397.53 212.92,399.56 214.66,401.63 216.40,403.77" fill="none" stroke="#15355f" stroke-width="1.2" stroke-dasharray="4.1 1.7" stroke-linejoin="round"/>
<polyline points="42.40,380.12 44.14,387.02 45.88,393.59 47.62,399.85 49.36,405.79 51.10,411.43 52.84,416.78 54.58,421.82 56.32,426.58 58.06,431.05 59.80,435.25 61.54,439.17 63.28,442.83 65.02,446.23 66.76,449.37 68.50,452.26 70.24,454.90 71.98,457.31 73.72,459.48 75.46,461.43 77.20,463.15 78.94,464.66 80.68,465.95 82.42,467.04 84.16,467.93 85.90,468.63 87.64,469.13 89.38,469.46 91.12,469.60 92.86,469.57 94.60,469.38 96.34,469.02 98.08,468.51 99.82,467.85 101.56,467.04 103.30,466.10 105.04,465.02 106.78,463.81 108.52,462.48 110.26,461.03 112.00,459.48 113.74,457.81 115.48,456.05 117.22,454.19 118.96,452.24 120.70,450.21 122.44,448.10 124.18,445.92 125.92,443.67 127.66,441.36 129.40,439.00 131.14,436.58 132.88,434.12 134.62,431.62 136.36,429.08 138.10,426.52 139.84,423.94 141.58,421.34 143.32,418.73 145.06,416.11 146.80,413.49 148.54,410.87 150.28,408.27 152.02,405.69 153.76,403.12 155.50,400.58 157.24,398.08 158.98,395.61 160.72,393.19 162.46,390.82 164.20,388.50 165.94,386.25 167.68,384.06 169.42,381.94 171.16,379.90 172.90,377.94 174.64,376.07 176.38,374.30 178.12,372.62 179.86,371.05 181.60,369.59 183.34,368.25 185.08,367.02 186.82,365.93 188.56,364.97 190.30,364.15 192.04,363.47 193.78,362.94 195.52,362.56 197.26,362.35 199.00,362.30 200.74,362.42 202.48,362.72 204.22,363.21 205.96,363.88 207.70,364.75 209.44,365.81 211.18,367.08 212.92,368.57 214.66,370.26 216.40,372.18" fill="none" stroke="#c3161c" stroke-width="1.2" stroke-dasharray="4.1 1.7" stroke-linejoin="round"/>
<polyline points="42.40,469.60 44.14,466.87 45.88,464.18 47.62,461.52 49.36,458.90 51.10,456.31 52.84,453.76 54.58,451.24 56.32,448.77 58.06,446.32 59.80,443.92 61.54,441.55 63.28,439.21 65.02,436.91 66.76,434.65 68.50,432.43 70.24,430.24 71.98,428.09 73.72,425.97 75.46,423.90 77.20,421.86 78.94,419.85 80.68,417.89 82.42,415.96 84.16,414.07 85.90,412.21 87.64,410.40 89.38,408.62 91.12,406.88 92.86,405.17 94.60,403.51 96.34,401.88 98.08,400.29 99.82,398.74 101.56,397.23 103.30,395.75 105.04,394.31 106.78,392.92 108.52,391.56 110.26,390.24 112.00,388.95 113.74,387.71 115.48,386.51 117.22,385.34 118.96,384.21 120.70,383.13 122.44,382.08 124.18,381.07 125.92,380.10 127.66,379.17 129.40,378.28 131.14,377.43 132.88,376.62 134.62,375.85 136.36,375.12 138.10,374.43 139.84,373.78 141.58,373.17 143.32,372.60 145.06,372.07 146.80,371.58 148.54,371.13 150.28,370.72 152.02,370.36 153.76,370.03 155.50,369.74 157.24,369.50 158.98,369.29 160.72,369.13 162.46,369.01 164.20,368.93 165.94,368.89 167.68,368.90 169.42,368.94 171.16,369.03 172.90,369.15 174.64,369.32 176.38,369.53 178.12,369.79 179.86,370.08 181.60,370.42 183.34,370.80 185.08,371.22 186.82,371.69 188.56,372.20 190.30,372.75 192.04,373.34 193.78,373.98 195.52,374.65 197.26,375.37 199.00,376.14 200.74,376.95 202.48,377.80 204.22,378.69 205.96,379.63 207.70,380.61 209.44,381.63 211.18,382.70 212.92,383.81 214.66,384.97 216.40,386.17" fill="none" stroke="#2186e0" stroke-width="1.2" stroke-dasharray="4.1 1.7" stroke-linejoin="round"/>
<polyline points="42.40,362.30 44.14,365.76 45.88,369.15 47.62,372.50 49.36,375.78 51.10,379.01 52.84,382.19 54.58,385.30 56.32,388.36 58.06,391.36 59.80,394.31 61.54,397.20 63.28,400.04 65.02,402.81 66.76,405.53 68.50,408.20 70.24,410.80 71.98,413.35 73.72,415.85 75.46,418.29 77.20,420.67 78.94,422.99 80.68,425.26 82.42,427.47 84.16,429.63 85.90,431.72 87.64,433.77 89.38,435.75 91.12,437.68 92.86,439.55 94.60,441.37 96.34,443.13 98.08,444.83 99.82,446.47 101.56,448.06 103.30,449.60 105.04,451.07 106.78,452.49 108.52,453.85 110.26,455.16 112.00,456.41 113.74,457.60 115.48,458.74 117.22,459.82 118.96,460.85 120.70,461.81 122.44,462.72 124.18,463.58 125.92,464.37 127.66,465.12 129.40,465.80 131.14,466.43 132.88,467.00 134.62,467.51 136.36,467.97 138.10,468.37 139.84,468.72 141.58,469.01 143.32,469.24 145.06,469.41 146.80,469.53 148.54,469.59 150.28,469.60 152.02,469.55 153.76,469.44 155.50,469.28 157.24,469.06 158.98,468.78 160.72,468.45 162.46,468.06 164.20,467.61 165.94,467.11 167.68,466.55 169.42,465.93 171.16,465.26 172.90,464.53 174.64,463.74 176.38,462.90 178.12,462.00 179.86,461.04 181.60,460.03 183.34,458.96 185.08,457.84 186.82,456.65 188.56,455.41 190.30,454.12 192.04,452.77 193.78,451.36 195.52,449.89 197.26,448.37 199.00,446.80 200.74,445.16 202.48,443.47 204.22,441.72 205.96,439.92 207.70,438.06 209.44,436.14 211.18,434.17 212.92,432.14 214.66,430.05 216.40,427.90" fill="none" stroke="#ff2424" stroke-width="1.2" stroke-dasharray="4.1 1.7" stroke-linejoin="round"/>
<polyline points="42.40,385.83 44.14,388.39 45.88,390.90 47.62,393.37 49.36,395.79 51.10,398.18 52.84,400.52 54.58,402.81 56.32,405.07 58.06,407.28 59.80,409.44 61.54,411.57 63.28,413.64 65.02,415.68 66.76,417.67 68.50,419.62 70.24,421.52 71.98,423.38 73.72,425.19 75.46,426.96 77.20,428.69 78.94,430.37 80.68,432.01 82.42,433.60 84.16,435.14 85.90,436.65 87.64,438.10 89.38,439.51 91.12,440.88 92.86,442.20 94.60,443.48 96.34,444.71 98.08,445.89 99.82,447.03 101.56,448.12 103.30,449.17 105.04,450.17 106.78,451.12 108.52,452.03 110.26,452.89 112.00,453.71 113.74,454.48 115.48,455.20 117.22,455.87 118.96,456.50 120.70,457.09 122.44,457.62 124.18,458.11 125.92,458.55 127.66,458.94 129.40,459.29 131.14,459.59 132.88,459.84 134.62,460.04 136.36,460.20 138.10,460.31 139.84,460.37 141.58,460.38 143.32,460.34 145.06,460.26 146.80,460.13 148.54,459.95 150.28,459.72 152.02,459.44 153.76,459.11 155.50,458.74 157.24,458.32 158.98,457.84 160.72,457.32 162.46,456.75 164.20,456.13 165.94,455.46 167.68,454.74 169.42,453.97 171.16,453.15 172.90,452.29 174.64,451.37 176.38,450.40 178.12,449.38 179.86,448.32 181.60,447.20 183.34,446.03 185.08,444.81 186.82,443.54 188.56,442.22 190.30,440.85 192.04,439.43 193.78,437.96 195.52,436.44 197.26,434.87 199.00,433.24 200.74,431.56 202.48,429.84 204.22,428.06 205.96,426.23 207.70,424.35 209.44,422.41 211.18,420.43 212.92,418.39 214.66,416.30 216.40,414.16" fill="none" stroke="#ff9c9c" stroke-width="1.2" stroke-dasharray="4.1 1.7" stroke-linejoin="round"/>
</g>
<line x1="33.4" y1="356.1" x2="224.7" y2="356.1" stroke="#9c9c9c" stroke-width="1.3"/>
<line x1="224.7" y1="356.1" x2="224.7" y2="498.3" stroke="#9c9c9c" stroke-width="1.3"/>
<line x1="33.4" y1="355.5" x2="33.4" y2="498.90000000000003" stroke="#303030" stroke-width="1.1"/>
<line x1="32.9" y1="498.3" x2="225.29999999999998" y2="498.3" stroke="#303030" stroke-width="1.1"/>
<line x1="30.80" y1="491.06" x2="33.40" y2="491.06" stroke="#555" stroke-width="0.9"/>
<text x="28.20" y="494.19" font-size="8.5" text-anchor="end">−0.2</text>
<line x1="30.80" y1="469.60" x2="33.40" y2="469.60" stroke="#555" stroke-width="0.9"/>
<text x="28.20" y="472.73" font-size="8.5" text-anchor="end">0.0</text>
<line x1="30.80" y1="448.14" x2="33.40" y2="448.14" stroke="#555" stroke-width="0.9"/>
<text x="28.20" y="451.27" font-size="8.5" text-anchor="end">0.2</text>
<line x1="30.80" y1="426.68" x2="33.40" y2="426.68" stroke="#555" stroke-width="0.9"/>
<text x="28.20" y="429.81" font-size="8.5" text-anchor="end">0.4</text>
<line x1="30.80" y1="405.22" x2="33.40" y2="405.22" stroke="#555" stroke-width="0.9"/>
<text x="28.20" y="408.35" font-size="8.5" text-anchor="end">0.6</text>
<line x1="30.80" y1="383.76" x2="33.40" y2="383.76" stroke="#555" stroke-width="0.9"/>
<text x="28.20" y="386.89" font-size="8.5" text-anchor="end">0.8</text>
<line x1="30.80" y1="362.30" x2="33.40" y2="362.30" stroke="#555" stroke-width="0.9"/>
<text x="28.20" y="365.43" font-size="8.5" text-anchor="end">1.0</text>
<line x1="42.40" y1="498.30" x2="42.40" y2="500.90" stroke="#555" stroke-width="0.9"/>
<text x="42.40" y="509.60" font-size="8.5" text-anchor="middle">0</text>
<line x1="77.20" y1="498.30" x2="77.20" y2="500.90" stroke="#555" stroke-width="0.9"/>
<text x="77.20" y="509.60" font-size="8.5" text-anchor="middle">20</text>
<line x1="112.00" y1="498.30" x2="112.00" y2="500.90" stroke="#555" stroke-width="0.9"/>
<text x="112.00" y="509.60" font-size="8.5" text-anchor="middle">40</text>
<line x1="146.80" y1="498.30" x2="146.80" y2="500.90" stroke="#555" stroke-width="0.9"/>
<text x="146.80" y="509.60" font-size="8.5" text-anchor="middle">60</text>
<line x1="181.60" y1="498.30" x2="181.60" y2="500.90" stroke="#555" stroke-width="0.9"/>
<text x="181.60" y="509.60" font-size="8.5" text-anchor="middle">80</text>
<line x1="216.40" y1="498.30" x2="216.40" y2="500.90" stroke="#555" stroke-width="0.9"/>
<text x="216.40" y="509.60" font-size="8.5" text-anchor="middle">100</text>
<circle cx="169.20" cy="382.30" r="3.55" fill="#fff" stroke="#e0383c" stroke-width="1.2"/>
<circle cx="145.00" cy="497.00" r="3.55" fill="#fff" stroke="#2ea6e3" stroke-width="1.2"/>
<text x="109.72" y="352.8" font-size="11.6">g</text>
<text x="123.52" y="352.8" font-size="11.6">Fruit</text>
<clipPath id="cliph"><rect x="263.3" y="356.1" width="191.50" height="142.50"/></clipPath>
<g clip-path="url(#cliph)">
<line x1="349.25" y1="356.1" x2="349.25" y2="498.6" stroke="#000" stroke-width="1.7"/>
<polyline points="272.10,468.90 273.84,465.91 275.58,462.99 277.33,460.17 279.07,457.43 280.81,454.77 282.55,452.20 284.29,449.71 286.04,447.30 287.78,444.97 289.52,442.73 291.26,440.56 293.00,438.48 294.75,436.47 296.49,434.55 298.23,432.70 299.97,430.93 301.71,429.23 303.46,427.61 305.20,426.07 306.94,424.60 308.68,423.21 310.42,421.89 312.17,420.64 313.91,419.46 315.65,418.36 317.39,417.32 319.13,416.36 320.88,415.47 322.62,414.64 324.36,413.89 326.10,413.20 327.84,412.58 329.59,412.02 331.33,411.53 333.07,411.11 334.81,410.75 336.55,410.45 338.30,410.22 340.04,410.05 341.78,409.94 343.52,409.89 345.26,409.91 347.01,409.98 348.75,410.11 350.49,410.30 352.23,410.55 353.97,410.86 355.72,411.22 357.46,411.64 359.20,412.12 360.94,412.65 362.68,413.23 364.43,413.87 366.17,414.56 367.91,415.30 369.65,416.10 371.39,416.94 373.14,417.84 374.88,418.78 376.62,419.78 378.36,420.82 380.10,421.91 381.85,423.05 383.59,424.23 385.33,425.46 387.07,426.74 388.81,428.06 390.56,429.42 392.30,430.83 394.04,432.28 395.78,433.77 397.52,435.30 399.27,436.88 401.01,438.49 402.75,440.14 404.49,441.84 406.23,443.57 407.98,445.33 409.72,447.14 411.46,448.98 413.20,450.85 414.94,452.77 416.69,454.71 418.43,456.69 420.17,458.70 421.91,460.75 423.65,462.82 425.40,464.93 427.14,467.07 428.88,469.23 430.62,471.43 432.36,473.65 434.11,475.91 435.85,478.19 437.59,480.49 439.33,482.82 441.07,485.18 442.82,487.56 444.56,489.97 446.30,492.40" fill="none" stroke="#1b98d8" stroke-width="2.5" stroke-linecap="butt" stroke-linejoin="round"/>
<polyline points="272.10,394.23 273.84,392.43 275.58,390.68 277.33,388.98 279.07,387.33 280.81,385.73 282.55,384.18 284.29,382.68 286.04,381.23 287.78,379.83 289.52,378.49 291.26,377.20 293.00,375.95 294.75,374.76 296.49,373.63 298.23,372.54 299.97,371.51 301.71,370.53 303.46,369.60 305.20,368.72 306.94,367.90 308.68,367.14 310.42,366.42 312.17,365.76 313.91,365.15 315.65,364.60 317.39,364.10 319.13,363.66 320.88,363.27 322.62,362.94 324.36,362.66 326.10,362.44 327.84,362.27 329.59,362.16 331.33,362.10 333.07,362.10 334.81,362.16 336.55,362.27 338.30,362.44 340.04,362.66 341.78,362.94 343.52,363.28 345.26,363.68 347.01,364.13 348.75,364.65 350.49,365.22 352.23,365.84 353.97,366.53 355.72,367.27 357.46,368.08 359.20,368.94 360.94,369.86 362.68,370.84 364.43,371.88 366.17,372.98 367.91,374.13 369.65,375.35 371.39,376.63 373.14,377.97 374.88,379.37 376.62,380.83 378.36,382.35 380.10,383.93 381.85,385.57 383.59,387.27 385.33,389.04 387.07,390.87 388.81,392.75 390.56,394.70 392.30,396.72 394.04,398.79 395.78,400.93 397.52,403.13 399.27,405.40 401.01,407.72 402.75,410.11 404.49,412.57 406.23,415.08 407.98,417.67 409.72,420.31 411.46,423.02 413.20,425.80 414.94,428.64 416.69,431.54 418.43,434.51 420.17,437.54 421.91,440.64 423.65,443.81 425.40,447.04 427.14,450.33 428.88,453.70 430.62,457.13 432.36,460.62 434.11,464.18 435.85,467.81 437.59,471.51 439.33,475.27 441.07,479.10 442.82,483.00 444.56,486.97 446.30,491.00" fill="none" stroke="#92d8fa" stroke-width="1.2" stroke-dasharray="4.1 1.7" stroke-dashoffset="2.9" stroke-linejoin="round"/>
<polyline points="272.10,407.96 273.84,405.63 275.58,403.35 277.33,401.14 279.07,398.98 280.81,396.88 282.55,394.85 284.29,392.87 286.04,390.95 287.78,389.10 289.52,387.30 291.26,385.57 293.00,383.89 294.75,382.28 296.49,380.72 298.23,379.23 299.97,377.80 301.71,376.43 303.46,375.12 305.20,373.88 306.94,372.69 308.68,371.57 310.42,370.51 312.17,369.51 313.91,368.57 315.65,367.70 317.39,366.89 319.13,366.14 320.88,365.46 322.62,364.83 324.36,364.28 326.10,363.78 327.84,363.35 329.59,362.98 331.33,362.68 333.07,362.44 334.81,362.26 336.55,362.15 338.30,362.10 340.04,362.12 341.78,362.20 343.52,362.35 345.26,362.56 347.01,362.83 348.75,363.18 350.49,363.58 352.23,364.06 353.97,364.59 355.72,365.20 357.46,365.87 359.20,366.61 360.94,367.41 362.68,368.28 364.43,369.21 366.17,370.22 367.91,371.29 369.65,372.42 371.39,373.63 373.14,374.90 374.88,376.24 376.62,377.64 378.36,379.12 380.10,380.66 381.85,382.27 383.59,383.95 385.33,385.69 387.07,387.51 388.81,389.39 390.56,391.34 392.30,393.37 394.04,395.46 395.78,397.62 397.52,399.84 399.27,402.14 401.01,404.51 402.75,406.95 404.49,409.46 406.23,412.03 407.98,414.68 409.72,417.40 411.46,420.19 413.20,423.05 414.94,425.98 416.69,428.98 418.43,432.05 420.17,435.20 421.91,438.41 423.65,441.70 425.40,445.06 427.14,448.49 428.88,451.99 430.62,455.56 432.36,459.21 434.11,462.93 435.85,466.72 437.59,470.58 439.33,474.52 441.07,478.53 442.82,482.61 444.56,486.77 446.30,491.00" fill="none" stroke="#15355f" stroke-width="1.2" stroke-dasharray="4.1 1.7" stroke-linejoin="round"/>
<polyline points="272.10,381.21 273.84,389.61 275.58,397.62 277.33,405.24 279.07,412.49 280.81,419.37 282.55,425.89 284.29,432.05 286.04,437.86 287.78,443.33 289.52,448.46 291.26,453.26 293.00,457.74 294.75,461.91 296.49,465.76 298.23,469.31 299.97,472.57 301.71,475.54 303.46,478.22 305.20,480.63 306.94,482.77 308.68,484.64 310.42,486.26 312.17,487.63 313.91,488.76 315.65,489.65 317.39,490.32 319.13,490.76 320.88,490.98 322.62,491.00 324.36,490.81 326.10,490.43 327.84,489.86 329.59,489.11 331.33,488.18 333.07,487.08 334.81,485.82 336.55,484.40 338.30,482.84 340.04,481.13 341.78,479.29 343.52,477.32 345.26,475.22 347.01,473.02 348.75,470.70 350.49,468.28 352.23,465.76 353.97,463.16 355.72,460.47 357.46,457.71 359.20,454.88 360.94,451.99 362.68,449.04 364.43,446.04 366.17,443.01 367.91,439.93 369.65,436.83 371.39,433.71 373.14,430.57 374.88,427.42 376.62,424.27 378.36,421.12 380.10,417.99 381.85,414.88 383.59,411.79 385.33,408.73 387.07,405.71 388.81,402.73 390.56,399.81 392.30,396.95 394.04,394.15 395.78,391.42 397.52,388.77 399.27,386.20 401.01,383.73 402.75,381.36 404.49,379.09 406.23,376.93 407.98,374.89 409.72,372.98 411.46,371.19 413.20,369.55 414.94,368.05 416.69,366.71 418.43,365.52 420.17,364.50 421.91,363.65 423.65,362.98 425.40,362.49 427.14,362.20 428.88,362.10 430.62,362.21 432.36,362.53 434.11,363.07 435.85,363.84 437.59,364.84 439.33,366.08 441.07,367.56 442.82,369.30 444.56,371.29 446.30,373.55" fill="none" stroke="#c3161c" stroke-width="1.2" stroke-dasharray="4.1 1.7" stroke-linejoin="round"/>
<polyline points="272.10,491.00 273.84,487.63 275.58,484.33 277.33,481.10 279.07,477.95 280.81,474.87 282.55,471.87 284.29,468.93 286.04,466.07 287.78,463.27 289.52,460.55 291.26,457.89 293.00,455.30 294.75,452.78 296.49,450.32 298.23,447.92 299.97,445.60 301.71,443.33 303.46,441.13 305.20,438.99 306.94,436.91 308.68,434.90 310.42,432.94 312.17,431.04 313.91,429.20 315.65,427.42 317.39,425.69 319.13,424.02 320.88,422.41 322.62,420.85 324.36,419.34 326.10,417.89 327.84,416.49 329.59,415.14 331.33,413.84 333.07,412.59 334.81,411.39 336.55,410.24 338.30,409.13 340.04,408.08 341.78,407.06 343.52,406.10 345.26,405.18 347.01,404.30 348.75,403.47 350.49,402.68 352.23,401.93 353.97,401.22 355.72,400.55 357.46,399.92 359.20,399.33 360.94,398.77 362.68,398.26 364.43,397.78 366.17,397.33 367.91,396.92 369.65,396.55 371.39,396.20 373.14,395.89 374.88,395.61 376.62,395.37 378.36,395.15 380.10,394.96 381.85,394.80 383.59,394.67 385.33,394.57 387.07,394.49 388.81,394.43 390.56,394.41 392.30,394.40 394.04,394.42 395.78,394.46 397.52,394.53 399.27,394.61 401.01,394.72 402.75,394.84 404.49,394.99 406.23,395.15 407.98,395.33 409.72,395.52 411.46,395.73 413.20,395.96 414.94,396.20 416.69,396.45 418.43,396.72 420.17,397.00 421.91,397.29 423.65,397.59 425.40,397.90 427.14,398.21 428.88,398.54 430.62,398.87 432.36,399.21 434.11,399.56 435.85,399.91 437.59,400.26 439.33,400.62 441.07,400.98 442.82,401.35 444.56,401.71 446.30,402.08" fill="none" stroke="#2186e0" stroke-width="1.2" stroke-dasharray="4.1 1.7" stroke-linejoin="round"/>
<polyline points="272.10,362.10 273.84,364.58 275.58,367.03 277.33,369.46 279.07,371.86 280.81,374.25 282.55,376.60 284.29,378.94 286.04,381.25 287.78,383.53 289.52,385.79 291.26,388.03 293.00,390.24 294.75,392.43 296.49,394.60 298.23,396.74 299.97,398.85 301.71,400.95 303.46,403.02 305.20,405.06 306.94,407.08 308.68,409.08 310.42,411.05 312.17,413.00 313.91,414.93 315.65,416.83 317.39,418.71 319.13,420.56 320.88,422.39 322.62,424.19 324.36,425.97 326.10,427.73 327.84,429.46 329.59,431.17 331.33,432.86 333.07,434.52 334.81,436.16 336.55,437.77 338.30,439.36 340.04,440.92 341.78,442.46 343.52,443.98 345.26,445.47 347.01,446.94 348.75,448.39 350.49,449.81 352.23,451.21 353.97,452.58 355.72,453.93 357.46,455.25 359.20,456.55 360.94,457.83 362.68,459.08 364.43,460.31 366.17,461.52 367.91,462.70 369.65,463.86 371.39,464.99 373.14,466.10 374.88,467.18 376.62,468.24 378.36,469.28 380.10,470.29 381.85,471.28 383.59,472.25 385.33,473.19 387.07,474.11 388.81,475.00 390.56,475.87 392.30,476.71 394.04,477.53 395.78,478.33 397.52,479.10 399.27,479.85 401.01,480.58 402.75,481.28 404.49,481.96 406.23,482.61 407.98,483.24 409.72,483.84 411.46,484.42 413.20,484.98 414.94,485.51 416.69,486.02 418.43,486.51 420.17,486.97 421.91,487.40 423.65,487.82 425.40,488.21 427.14,488.57 428.88,488.91 430.62,489.23 432.36,489.52 434.11,489.79 435.85,490.04 437.59,490.26 439.33,490.45 441.07,490.63 442.82,490.77 444.56,490.90 446.30,491.00" fill="none" stroke="#ff2424" stroke-width="1.2" stroke-dasharray="4.1 1.7" stroke-linejoin="round"/>
<polyline points="272.10,391.49 273.84,394.59 275.58,397.63 277.33,400.62 279.07,403.56 280.81,406.43 282.55,409.26 284.29,412.03 286.04,414.74 287.78,417.40 289.52,420.00 291.26,422.55 293.00,425.04 294.75,427.47 296.49,429.85 298.23,432.18 299.97,434.45 301.71,436.66 303.46,438.82 305.20,440.92 306.94,442.97 308.68,444.96 310.42,446.90 312.17,448.78 313.91,450.60 315.65,452.37 317.39,454.08 319.13,455.74 320.88,457.34 322.62,458.88 324.36,460.37 326.10,461.81 327.84,463.18 329.59,464.51 331.33,465.77 333.07,466.98 334.81,468.13 336.55,469.23 338.30,470.27 340.04,471.26 341.78,472.18 343.52,473.06 345.26,473.87 347.01,474.63 348.75,475.34 350.49,475.99 352.23,476.58 353.97,477.11 355.72,477.59 357.46,478.01 359.20,478.38 360.94,478.69 362.68,478.94 364.43,479.13 366.17,479.27 367.91,479.36 369.65,479.38 371.39,479.35 373.14,479.27 374.88,479.12 376.62,478.92 378.36,478.66 380.10,478.35 381.85,477.98 383.59,477.55 385.33,477.07 387.07,476.52 388.81,475.93 390.56,475.27 392.30,474.56 394.04,473.79 395.78,472.96 397.52,472.08 399.27,471.14 401.01,470.14 402.75,469.09 404.49,467.98 406.23,466.81 407.98,465.58 409.72,464.30 411.46,462.96 413.20,461.56 414.94,460.10 416.69,458.59 418.43,457.02 420.17,455.39 421.91,453.71 423.65,451.97 425.40,450.17 427.14,448.31 428.88,446.39 430.62,444.42 432.36,442.39 434.11,440.30 435.85,438.16 437.59,435.95 439.33,433.69 441.07,431.38 442.82,429.00 444.56,426.57 446.30,424.07" fill="none" stroke="#ff9c9c" stroke-width="1.2" stroke-dasharray="4.1 1.7" stroke-linejoin="round"/>
</g>
<line x1="263.3" y1="356.1" x2="454.8" y2="356.1" stroke="#9c9c9c" stroke-width="1.3"/>
<line x1="454.8" y1="356.1" x2="454.8" y2="498.6" stroke="#9c9c9c" stroke-width="1.3"/>
<line x1="263.3" y1="355.5" x2="263.3" y2="499.20000000000005" stroke="#303030" stroke-width="1.1"/>
<line x1="262.8" y1="498.6" x2="455.40000000000003" y2="498.6" stroke="#303030" stroke-width="1.1"/>
<line x1="260.70" y1="491.00" x2="263.30" y2="491.00" stroke="#555" stroke-width="0.9"/>
<text x="258.10" y="494.13" font-size="8.5" text-anchor="end">0.0</text>
<line x1="260.70" y1="465.22" x2="263.30" y2="465.22" stroke="#555" stroke-width="0.9"/>
<text x="258.10" y="468.35" font-size="8.5" text-anchor="end">0.2</text>
<line x1="260.70" y1="439.44" x2="263.30" y2="439.44" stroke="#555" stroke-width="0.9"/>
<text x="258.10" y="442.57" font-size="8.5" text-anchor="end">0.4</text>
<line x1="260.70" y1="413.66" x2="263.30" y2="413.66" stroke="#555" stroke-width="0.9"/>
<text x="258.10" y="416.79" font-size="8.5" text-anchor="end">0.6</text>
<line x1="260.70" y1="387.88" x2="263.30" y2="387.88" stroke="#555" stroke-width="0.9"/>
<text x="258.10" y="391.01" font-size="8.5" text-anchor="end">0.8</text>
<line x1="260.70" y1="362.10" x2="263.30" y2="362.10" stroke="#555" stroke-width="0.9"/>
<text x="258.10" y="365.23" font-size="8.5" text-anchor="end">1.0</text>
<line x1="272.10" y1="498.60" x2="272.10" y2="501.20" stroke="#555" stroke-width="0.9"/>
<text x="272.10" y="509.90" font-size="8.5" text-anchor="middle">0</text>
<line x1="306.94" y1="498.60" x2="306.94" y2="501.20" stroke="#555" stroke-width="0.9"/>
<text x="306.94" y="509.90" font-size="8.5" text-anchor="middle">20</text>
<line x1="341.78" y1="498.60" x2="341.78" y2="501.20" stroke="#555" stroke-width="0.9"/>
<text x="341.78" y="509.90" font-size="8.5" text-anchor="middle">40</text>
<line x1="376.62" y1="498.60" x2="376.62" y2="501.20" stroke="#555" stroke-width="0.9"/>
<text x="376.62" y="509.90" font-size="8.5" text-anchor="middle">60</text>
<line x1="411.46" y1="498.60" x2="411.46" y2="501.20" stroke="#555" stroke-width="0.9"/>
<text x="411.46" y="509.90" font-size="8.5" text-anchor="middle">80</text>
<line x1="446.30" y1="498.60" x2="446.30" y2="501.20" stroke="#555" stroke-width="0.9"/>
<text x="446.30" y="509.90" font-size="8.5" text-anchor="middle">100</text>
<circle cx="393.80" cy="393.80" r="3.55" fill="#fff" stroke="#e0383c" stroke-width="1.2"/>
<circle cx="349.20" cy="495.30" r="3.55" fill="#fff" stroke="#2ea6e3" stroke-width="1.2"/>
<text x="327.99" y="352.3" font-size="11.6">h</text>
<text x="342.12" y="352.3" font-size="11.6">Vegetable</text>
<clipPath id="clipi"><rect x="493.3" y="356.1" width="191.10" height="142.50"/></clipPath>
<g clip-path="url(#clipi)">
<line x1="589.10" y1="356.1" x2="589.10" y2="498.6" stroke="#000" stroke-width="1.7"/>
<polyline points="501.60,489.11 503.34,485.64 505.08,482.26 506.83,478.96 508.57,475.73 510.31,472.59 512.05,469.52 513.79,466.54 515.54,463.63 517.28,460.80 519.02,458.05 520.76,455.37 522.50,452.77 524.25,450.25 525.99,447.81 527.73,445.44 529.47,443.14 531.21,440.92 532.96,438.77 534.70,436.70 536.44,434.70 538.18,432.78 539.92,430.93 541.67,429.15 543.41,427.44 545.15,425.80 546.89,424.24 548.63,422.75 550.38,421.32 552.12,419.97 553.86,418.69 555.60,417.48 557.34,416.33 559.09,415.26 560.83,414.25 562.57,413.31 564.31,412.44 566.05,411.64 567.80,410.90 569.54,410.23 571.28,409.63 573.02,409.09 574.76,408.61 576.51,408.20 578.25,407.86 579.99,407.58 581.73,407.36 583.47,407.21 585.22,407.12 586.96,407.09 588.70,407.13 590.44,407.22 592.18,407.38 593.93,407.60 595.67,407.88 597.41,408.22 599.15,408.62 600.89,409.08 602.64,409.60 604.38,410.17 606.12,410.81 607.86,411.50 609.60,412.25 611.35,413.06 613.09,413.93 614.83,414.85 616.57,415.83 618.31,416.86 620.06,417.95 621.80,419.09 623.54,420.29 625.28,421.54 627.02,422.85 628.77,424.21 630.51,425.62 632.25,427.08 633.99,428.60 635.73,430.17 637.48,431.79 639.22,433.46 640.96,435.18 642.70,436.96 644.44,438.78 646.19,440.65 647.93,442.57 649.67,444.54 651.41,446.56 653.15,448.63 654.90,450.74 656.64,452.90 658.38,455.11 660.12,457.37 661.86,459.67 663.61,462.01 665.35,464.40 667.09,466.84 668.83,469.32 670.57,471.85 672.32,474.42 674.06,477.03 675.80,479.69" fill="none" stroke="#1b98d8" stroke-width="2.5" stroke-linecap="butt" stroke-linejoin="round"/>
<polyline points="501.60,411.79 503.34,409.29 505.08,406.84 506.83,404.47 508.57,402.15 510.31,399.90 512.05,397.71 513.79,395.59 515.54,393.54 517.28,391.54 519.02,389.61 520.76,387.75 522.50,385.95 524.25,384.22 525.99,382.55 527.73,380.94 529.47,379.40 531.21,377.93 532.96,376.52 534.70,375.18 536.44,373.90 538.18,372.69 539.92,371.54 541.67,370.46 543.41,369.45 545.15,368.50 546.89,367.62 548.63,366.80 550.38,366.05 552.12,365.37 553.86,364.75 555.60,364.20 557.34,363.71 559.09,363.30 560.83,362.95 562.57,362.66 564.31,362.45 566.05,362.30 567.80,362.21 569.54,362.20 571.28,362.25 573.02,362.37 574.76,362.56 576.51,362.81 578.25,363.14 579.99,363.53 581.73,363.99 583.47,364.51 585.22,365.11 586.96,365.77 588.70,366.50 590.44,367.30 592.18,368.17 593.93,369.11 595.67,370.12 597.41,371.19 599.15,372.33 600.89,373.55 602.64,374.83 604.38,376.18 606.12,377.60 607.86,379.09 609.60,380.65 611.35,382.28 613.09,383.97 614.83,385.74 616.57,387.58 618.31,389.49 620.06,391.47 621.80,393.51 623.54,395.63 625.28,397.82 627.02,400.08 628.77,402.41 630.51,404.81 632.25,407.28 633.99,409.82 635.73,412.43 637.48,415.12 639.22,417.87 640.96,420.70 642.70,423.59 644.44,426.56 646.19,429.60 647.93,432.71 649.67,435.90 651.41,439.15 653.15,442.48 654.90,445.87 656.64,449.35 658.38,452.89 660.12,456.50 661.86,460.19 663.61,463.95 665.35,467.78 667.09,471.69 668.83,475.66 670.57,479.71 672.32,483.84 674.06,488.03 675.80,492.30" fill="none" stroke="#92d8fa" stroke-width="1.2" stroke-dasharray="4.1 1.7" stroke-dashoffset="2.9" stroke-linejoin="round"/>
<polyline points="501.60,429.26 503.34,426.15 505.08,423.12 506.83,420.16 508.57,417.28 510.31,414.46 512.05,411.72 513.79,409.05 515.54,406.45 517.28,403.93 519.02,401.48 520.76,399.10 522.50,396.80 524.25,394.57 525.99,392.41 527.73,390.33 529.47,388.32 531.21,386.38 532.96,384.52 534.70,382.73 536.44,381.01 538.18,379.37 539.92,377.80 541.67,376.31 543.41,374.89 545.15,373.55 546.89,372.28 548.63,371.09 550.38,369.97 552.12,368.92 553.86,367.95 555.60,367.06 557.34,366.24 559.09,365.49 560.83,364.83 562.57,364.23 564.31,363.71 566.05,363.27 567.80,362.91 569.54,362.62 571.28,362.40 573.02,362.26 574.76,362.20 576.51,362.21 578.25,362.30 579.99,362.47 581.73,362.71 583.47,363.03 585.22,363.43 586.96,363.91 588.70,364.46 590.44,365.08 592.18,365.79 593.93,366.57 595.67,367.43 597.41,368.37 599.15,369.38 600.89,370.47 602.64,371.64 604.38,372.89 606.12,374.22 607.86,375.62 609.60,377.10 611.35,378.66 613.09,380.30 614.83,382.02 616.57,383.81 618.31,385.69 620.06,387.64 621.80,389.67 623.54,391.78 625.28,393.97 627.02,396.24 628.77,398.59 630.51,401.02 632.25,403.52 633.99,406.11 635.73,408.78 637.48,411.52 639.22,414.35 640.96,417.25 642.70,420.24 644.44,423.30 646.19,426.45 647.93,429.68 649.67,432.98 651.41,436.37 653.15,439.84 654.90,443.39 656.64,447.02 658.38,450.73 660.12,454.52 661.86,458.39 663.61,462.34 665.35,466.38 667.09,470.49 668.83,474.69 670.57,478.97 672.32,483.33 674.06,487.78 675.80,492.30" fill="none" stroke="#15355f" stroke-width="1.2" stroke-dasharray="4.1 1.7" stroke-linejoin="round"/>
<polyline points="501.60,381.30 503.34,389.77 505.08,397.86 506.83,405.56 508.57,412.88 510.31,419.83 512.05,426.41 513.79,432.63 515.54,438.50 517.28,444.03 519.02,449.21 520.76,454.07 522.50,458.59 524.25,462.80 525.99,466.70 527.73,470.29 529.47,473.59 531.21,476.59 532.96,479.30 534.70,481.74 536.44,483.91 538.18,485.81 539.92,487.46 541.67,488.85 543.41,490.00 545.15,490.91 546.89,491.58 548.63,492.04 550.38,492.27 552.12,492.30 553.86,492.12 555.60,491.74 557.34,491.18 559.09,490.43 560.83,489.50 562.57,488.40 564.31,487.14 566.05,485.72 567.80,484.14 569.54,482.43 571.28,480.58 573.02,478.60 574.76,476.49 576.51,474.27 578.25,471.94 579.99,469.50 581.73,466.97 583.47,464.35 585.22,461.65 586.96,458.87 588.70,456.02 590.44,453.10 592.18,450.13 593.93,447.11 595.67,444.05 597.41,440.95 599.15,437.83 600.89,434.68 602.64,431.51 604.38,428.34 606.12,425.16 607.86,421.99 609.60,418.83 611.35,415.69 613.09,412.57 614.83,409.48 616.57,406.43 618.31,403.43 620.06,400.48 621.80,397.58 623.54,394.76 625.28,392.00 627.02,389.32 628.77,386.73 630.51,384.22 632.25,381.82 633.99,379.52 635.73,377.34 637.48,375.27 639.22,373.33 640.96,371.52 642.70,369.85 644.44,368.33 646.19,366.96 647.93,365.75 649.67,364.70 651.41,363.83 653.15,363.14 654.90,362.63 656.64,362.31 658.38,362.20 660.12,362.29 661.86,362.60 663.61,363.12 665.35,363.87 667.09,364.86 668.83,366.08 670.57,367.55 672.32,369.28 674.06,371.27 675.80,373.52" fill="none" stroke="#c3161c" stroke-width="1.2" stroke-dasharray="4.1 1.7" stroke-linejoin="round"/>
<polyline points="501.60,492.30 503.34,489.11 505.08,485.96 506.83,482.85 508.57,479.78 510.31,476.75 512.05,473.76 513.79,470.81 515.54,467.89 517.28,465.02 519.02,462.19 520.76,459.40 522.50,456.65 524.25,453.94 525.99,451.28 527.73,448.65 529.47,446.06 531.21,443.51 532.96,441.01 534.70,438.54 536.44,436.12 538.18,433.73 539.92,431.39 541.67,429.09 543.41,426.83 545.15,424.61 546.89,422.44 548.63,420.30 550.38,418.21 552.12,416.16 553.86,414.14 555.60,412.18 557.34,410.25 559.09,408.36 560.83,406.52 562.57,404.72 564.31,402.96 566.05,401.24 567.80,399.57 569.54,397.94 571.28,396.35 573.02,394.80 574.76,393.29 576.51,391.83 578.25,390.41 579.99,389.03 581.73,387.70 583.47,386.41 585.22,385.16 586.96,383.95 588.70,382.79 590.44,381.67 592.18,380.60 593.93,379.57 595.67,378.58 597.41,377.63 599.15,376.73 600.89,375.87 602.64,375.06 604.38,374.28 606.12,373.56 607.86,372.87 609.60,372.23 611.35,371.64 613.09,371.09 614.83,370.58 616.57,370.12 618.31,369.70 620.06,369.33 621.80,369.00 623.54,368.71 625.28,368.47 627.02,368.28 628.77,368.12 630.51,368.02 632.25,367.96 633.99,367.94 635.73,367.97 637.48,368.04 639.22,368.16 640.96,368.33 642.70,368.54 644.44,368.79 646.19,369.09 647.93,369.44 649.67,369.83 651.41,370.27 653.15,370.75 654.90,371.28 656.64,371.85 658.38,372.48 660.12,373.14 661.86,373.86 663.61,374.61 665.35,375.42 667.09,376.27 668.83,377.17 670.57,378.11 672.32,379.11 674.06,380.14 675.80,381.23" fill="none" stroke="#2186e0" stroke-width="1.2" stroke-dasharray="4.1 1.7" stroke-linejoin="round"/>
<polyline points="501.60,362.20 503.34,364.68 505.08,367.13 506.83,369.56 508.57,371.96 510.31,374.35 512.05,376.70 513.79,379.04 515.54,381.35 517.28,383.63 519.02,385.90 520.76,388.14 522.50,390.35 524.25,392.54 525.99,394.71 527.73,396.85 529.47,398.98 531.21,401.07 532.96,403.14 534.70,405.19 536.44,407.22 538.18,409.22 539.92,411.20 541.67,413.15 543.41,415.08 545.15,416.99 546.89,418.87 548.63,420.73 550.38,422.57 552.12,424.38 553.86,426.17 555.60,427.93 557.34,429.67 559.09,431.39 560.83,433.08 562.57,434.75 564.31,436.39 566.05,438.02 567.80,439.61 569.54,441.19 571.28,442.74 573.02,444.27 574.76,445.77 576.51,447.25 578.25,448.70 579.99,450.13 581.73,451.54 583.47,452.93 585.22,454.29 586.96,455.62 588.70,456.94 590.44,458.23 592.18,459.49 593.93,460.73 595.67,461.95 597.41,463.14 599.15,464.31 600.89,465.46 602.64,466.58 604.38,467.68 606.12,468.76 607.86,469.81 609.60,470.84 611.35,471.84 613.09,472.82 614.83,473.78 616.57,474.71 618.31,475.62 620.06,476.51 621.80,477.37 623.54,478.21 625.28,479.02 627.02,479.81 628.77,480.58 630.51,481.32 632.25,482.04 633.99,482.74 635.73,483.41 637.48,484.05 639.22,484.68 640.96,485.28 642.70,485.86 644.44,486.41 646.19,486.94 647.93,487.44 649.67,487.92 651.41,488.38 653.15,488.82 654.90,489.23 656.64,489.61 658.38,489.98 660.12,490.32 661.86,490.63 663.61,490.92 665.35,491.19 667.09,491.44 668.83,491.66 670.57,491.85 672.32,492.03 674.06,492.17 675.80,492.30" fill="none" stroke="#ff2424" stroke-width="1.2" stroke-dasharray="4.1 1.7" stroke-linejoin="round"/>
<polyline points="501.60,391.01 503.34,394.10 505.08,397.14 506.83,400.13 508.57,403.06 510.31,405.94 512.05,408.77 513.79,411.55 515.54,414.27 517.28,416.94 519.02,419.56 520.76,422.12 522.50,424.63 524.25,427.09 525.99,429.49 527.73,431.84 529.47,434.14 531.21,436.38 532.96,438.57 534.70,440.71 536.44,442.79 538.18,444.81 539.92,446.78 541.67,448.70 543.41,450.56 545.15,452.37 546.89,454.12 548.63,455.82 550.38,457.47 552.12,459.06 553.86,460.59 555.60,462.07 557.34,463.49 559.09,464.86 560.83,466.17 562.57,467.42 564.31,468.62 566.05,469.77 567.80,470.86 569.54,471.89 571.28,472.87 573.02,473.79 574.76,474.65 576.51,475.46 578.25,476.21 579.99,476.90 581.73,477.54 583.47,478.12 585.22,478.64 586.96,479.11 588.70,479.51 590.44,479.87 592.18,480.16 593.93,480.40 595.67,480.58 597.41,480.70 599.15,480.76 600.89,480.77 602.64,480.71 604.38,480.60 606.12,480.43 607.86,480.21 609.60,479.92 611.35,479.58 613.09,479.17 614.83,478.71 616.57,478.19 618.31,477.61 620.06,476.97 621.80,476.28 623.54,475.52 625.28,474.70 627.02,473.83 628.77,472.89 630.51,471.90 632.25,470.84 633.99,469.73 635.73,468.56 637.48,467.32 639.22,466.03 640.96,464.67 642.70,463.26 644.44,461.78 646.19,460.25 647.93,458.65 649.67,456.99 651.41,455.27 653.15,453.49 654.90,451.65 656.64,449.75 658.38,447.79 660.12,445.76 661.86,443.68 663.61,441.53 665.35,439.32 667.09,437.05 668.83,434.72 670.57,432.32 672.32,429.86 674.06,427.35 675.80,424.76" fill="none" stroke="#ff9c9c" stroke-width="1.2" stroke-dasharray="4.1 1.7" stroke-linejoin="round"/>
</g>
<line x1="493.3" y1="356.1" x2="684.4" y2="356.1" stroke="#9c9c9c" stroke-width="1.3"/>
<line x1="684.4" y1="356.1" x2="684.4" y2="498.6" stroke="#9c9c9c" stroke-width="1.3"/>
<line x1="493.3" y1="355.5" x2="493.3" y2="499.20000000000005" stroke="#303030" stroke-width="1.1"/>
<line x1="492.8" y1="498.6" x2="685.0" y2="498.6" stroke="#303030" stroke-width="1.1"/>
<line x1="490.70" y1="492.30" x2="493.30" y2="492.30" stroke="#555" stroke-width="0.9"/>
<text x="488.10" y="495.43" font-size="8.5" text-anchor="end">0.0</text>
<line x1="490.70" y1="466.28" x2="493.30" y2="466.28" stroke="#555" stroke-width="0.9"/>
<text x="488.10" y="469.41" font-size="8.5" text-anchor="end">0.2</text>
<line x1="490.70" y1="440.26" x2="493.30" y2="440.26" stroke="#555" stroke-width="0.9"/>
<text x="488.10" y="443.39" font-size="8.5" text-anchor="end">0.4</text>
<line x1="490.70" y1="414.24" x2="493.30" y2="414.24" stroke="#555" stroke-width="0.9"/>
<text x="488.10" y="417.37" font-size="8.5" text-anchor="end">0.6</text>
<line x1="490.70" y1="388.22" x2="493.30" y2="388.22" stroke="#555" stroke-width="0.9"/>
<text x="488.10" y="391.35" font-size="8.5" text-anchor="end">0.8</text>
<line x1="490.70" y1="362.20" x2="493.30" y2="362.20" stroke="#555" stroke-width="0.9"/>
<text x="488.10" y="365.33" font-size="8.5" text-anchor="end">1.0</text>
<line x1="501.60" y1="498.60" x2="501.60" y2="501.20" stroke="#555" stroke-width="0.9"/>
<text x="501.60" y="509.90" font-size="8.5" text-anchor="middle">0</text>
<line x1="536.44" y1="498.60" x2="536.44" y2="501.20" stroke="#555" stroke-width="0.9"/>
<text x="536.44" y="509.90" font-size="8.5" text-anchor="middle">20</text>
<line x1="571.28" y1="498.60" x2="571.28" y2="501.20" stroke="#555" stroke-width="0.9"/>
<text x="571.28" y="509.90" font-size="8.5" text-anchor="middle">40</text>
<line x1="606.12" y1="498.60" x2="606.12" y2="501.20" stroke="#555" stroke-width="0.9"/>
<text x="606.12" y="509.90" font-size="8.5" text-anchor="middle">60</text>
<line x1="640.96" y1="498.60" x2="640.96" y2="501.20" stroke="#555" stroke-width="0.9"/>
<text x="640.96" y="509.90" font-size="8.5" text-anchor="middle">80</text>
<line x1="675.80" y1="498.60" x2="675.80" y2="501.20" stroke="#555" stroke-width="0.9"/>
<text x="675.80" y="509.90" font-size="8.5" text-anchor="middle">100</text>
<circle cx="623.80" cy="393.80" r="3.55" fill="#fff" stroke="#e0383c" stroke-width="1.2"/>
<circle cx="588.90" cy="497.20" r="3.55" fill="#fff" stroke="#2ea6e3" stroke-width="1.2"/>
<text x="579.29" y="353.0" font-size="11.6">i</text>
<text x="587.27" y="353.0" font-size="11.6">Tea</text>
<text transform="translate(11.4,149.08) rotate(-90)" font-size="8.7">Normalized indices change (%)</text>
<text transform="translate(11.4,320.38) rotate(-90)" font-size="8.7">Normalized indices change (%)</text>
<text transform="translate(5.85,491.48) rotate(-90)" font-size="8.7">Normalized indices change (%)</text>
<text x="85.25" y="520.5" font-size="8.7">Substitution ratio (%)</text>
<text x="315.15" y="520.5" font-size="8.7">Substitution ratio (%)</text>
<text x="545.15" y="520.5" font-size="8.7">Substitution ratio (%)</text>
</svg>
</body></html>
